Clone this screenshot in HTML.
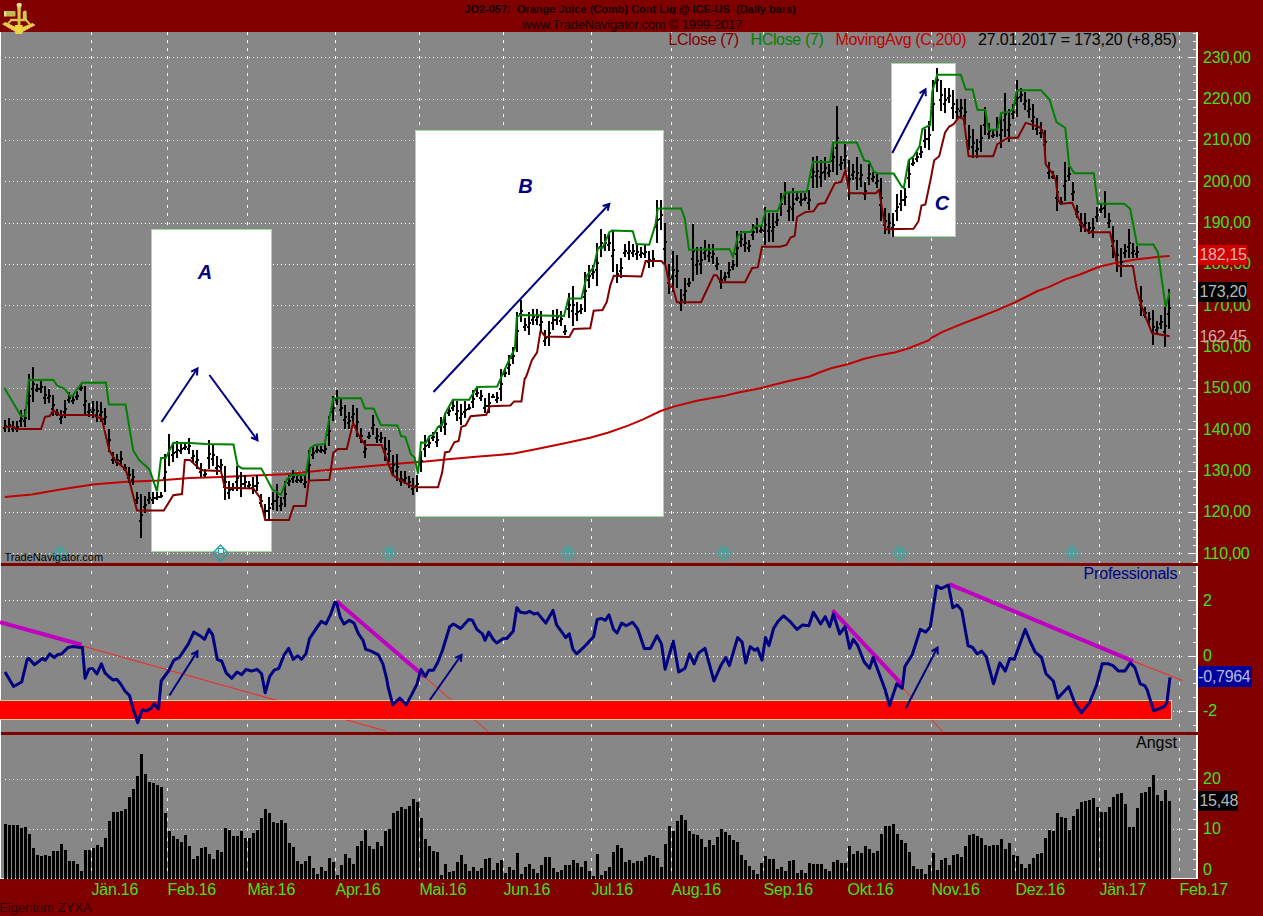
<!DOCTYPE html>
<html><head><meta charset="utf-8"><style>
html,body{margin:0;padding:0;}
body{width:1263px;height:916px;background:#800000;position:relative;overflow:hidden;font-family:"Liberation Sans",sans-serif;}
.t{position:absolute;white-space:nowrap;line-height:1;}
svg{position:absolute;left:0;top:0;}
</style></head><body>
<svg width="1263" height="916" viewBox="0 0 1263 916" shape-rendering="crispEdges">
<rect x="0" y="32" width="1196" height="846" fill="#878787"/>
<rect x="0" y="32" width="1" height="846" fill="#fff"/>
<rect x="151" y="229" width="121" height="323" fill="#fff"/>
<rect x="415" y="130" width="249" height="387" fill="#fff"/>
<rect x="891" y="63" width="65" height="174" fill="#fff"/>
<line x1="5" y1="553.5" x2="1183" y2="553.5" stroke="#fff" stroke-dasharray="1 3"/>
<line x1="5" y1="512.5" x2="1183" y2="512.5" stroke="#fff" stroke-dasharray="1 3"/>
<line x1="5" y1="471.5" x2="1183" y2="471.5" stroke="#fff" stroke-dasharray="1 3"/>
<line x1="5" y1="429.5" x2="1183" y2="429.5" stroke="#fff" stroke-dasharray="1 3"/>
<line x1="5" y1="388.5" x2="1183" y2="388.5" stroke="#fff" stroke-dasharray="1 3"/>
<line x1="5" y1="347.5" x2="1183" y2="347.5" stroke="#fff" stroke-dasharray="1 3"/>
<line x1="5" y1="305.5" x2="1183" y2="305.5" stroke="#fff" stroke-dasharray="1 3"/>
<line x1="5" y1="264.5" x2="1183" y2="264.5" stroke="#fff" stroke-dasharray="1 3"/>
<line x1="5" y1="223.5" x2="1183" y2="223.5" stroke="#fff" stroke-dasharray="1 3"/>
<line x1="5" y1="181.5" x2="1183" y2="181.5" stroke="#fff" stroke-dasharray="1 3"/>
<line x1="5" y1="140.5" x2="1183" y2="140.5" stroke="#fff" stroke-dasharray="1 3"/>
<line x1="5" y1="99.5" x2="1183" y2="99.5" stroke="#fff" stroke-dasharray="1 3"/>
<line x1="5" y1="57.5" x2="1183" y2="57.5" stroke="#fff" stroke-dasharray="1 3"/>
<line x1="5" y1="600.5" x2="1183" y2="600.5" stroke="#fff" stroke-dasharray="1 3"/>
<line x1="5" y1="656.5" x2="1183" y2="656.5" stroke="#fff" stroke-dasharray="1 3"/>
<line x1="5" y1="711.5" x2="1183" y2="711.5" stroke="#fff" stroke-dasharray="1 3"/>
<line x1="5" y1="829.5" x2="1183" y2="829.5" stroke="#fff" stroke-dasharray="1 3"/>
<line x1="5" y1="779.5" x2="1183" y2="779.5" stroke="#fff" stroke-dasharray="1 3"/>
<path d="M91 561h1v2h-1zM91 552h1v3h-1zM91 544h1v3h-1zM91 536h1v3h-1zM91 528h1v3h-1zM91 519h1v3h-1zM91 511h1v3h-1zM91 503h1v3h-1zM91 494h1v3h-1zM91 486h1v3h-1zM91 478h1v3h-1zM91 470h1v3h-1zM91 461h1v3h-1zM91 453h1v3h-1zM91 445h1v3h-1zM91 437h1v3h-1zM91 428h1v3h-1zM91 420h1v3h-1zM91 412h1v3h-1zM91 404h1v3h-1zM91 395h1v3h-1zM91 387h1v3h-1zM91 379h1v3h-1zM91 370h1v3h-1zM91 362h1v3h-1zM91 354h1v3h-1zM91 346h1v3h-1zM91 337h1v3h-1zM91 329h1v3h-1zM91 321h1v3h-1zM91 313h1v3h-1zM91 304h1v3h-1zM91 296h1v3h-1zM91 288h1v3h-1zM91 280h1v3h-1zM91 271h1v3h-1zM91 263h1v3h-1zM91 255h1v3h-1zM91 246h1v3h-1zM91 238h1v3h-1zM91 230h1v3h-1zM91 222h1v3h-1zM91 213h1v3h-1zM91 205h1v3h-1zM91 197h1v3h-1zM91 189h1v3h-1zM91 180h1v3h-1zM91 172h1v3h-1zM91 164h1v3h-1zM91 156h1v3h-1zM91 147h1v3h-1zM91 139h1v3h-1zM91 131h1v3h-1zM91 122h1v3h-1zM91 114h1v3h-1zM91 106h1v3h-1zM91 98h1v3h-1zM91 89h1v3h-1zM91 81h1v3h-1zM91 73h1v3h-1zM91 65h1v3h-1zM91 56h1v3h-1zM91 48h1v3h-1zM91 40h1v3h-1zM91 32h1v3h-1zM91 724h1v3h-1zM91 710h1v3h-1zM91 696h1v3h-1zM91 682h1v3h-1zM91 668h1v3h-1zM91 655h1v3h-1zM91 641h1v3h-1zM91 627h1v3h-1zM91 613h1v3h-1zM91 599h1v3h-1zM91 585h1v3h-1zM91 571h1v3h-1zM91 868h1v3h-1zM91 858h1v3h-1zM91 848h1v3h-1zM91 838h1v3h-1zM91 828h1v3h-1zM91 818h1v3h-1zM91 808h1v3h-1zM91 798h1v3h-1zM91 788h1v3h-1zM91 778h1v3h-1zM91 768h1v3h-1zM91 758h1v3h-1zM91 748h1v3h-1zM91 738h1v3h-1zM167 561h1v2h-1zM167 552h1v3h-1zM167 544h1v3h-1zM167 536h1v3h-1zM167 528h1v3h-1zM167 519h1v3h-1zM167 511h1v3h-1zM167 503h1v3h-1zM167 494h1v3h-1zM167 486h1v3h-1zM167 478h1v3h-1zM167 470h1v3h-1zM167 461h1v3h-1zM167 453h1v3h-1zM167 445h1v3h-1zM167 437h1v3h-1zM167 428h1v3h-1zM167 420h1v3h-1zM167 412h1v3h-1zM167 404h1v3h-1zM167 395h1v3h-1zM167 387h1v3h-1zM167 379h1v3h-1zM167 370h1v3h-1zM167 362h1v3h-1zM167 354h1v3h-1zM167 346h1v3h-1zM167 337h1v3h-1zM167 329h1v3h-1zM167 321h1v3h-1zM167 313h1v3h-1zM167 304h1v3h-1zM167 296h1v3h-1zM167 288h1v3h-1zM167 280h1v3h-1zM167 271h1v3h-1zM167 263h1v3h-1zM167 255h1v3h-1zM167 246h1v3h-1zM167 238h1v3h-1zM167 230h1v3h-1zM167 222h1v3h-1zM167 213h1v3h-1zM167 205h1v3h-1zM167 197h1v3h-1zM167 189h1v3h-1zM167 180h1v3h-1zM167 172h1v3h-1zM167 164h1v3h-1zM167 156h1v3h-1zM167 147h1v3h-1zM167 139h1v3h-1zM167 131h1v3h-1zM167 122h1v3h-1zM167 114h1v3h-1zM167 106h1v3h-1zM167 98h1v3h-1zM167 89h1v3h-1zM167 81h1v3h-1zM167 73h1v3h-1zM167 65h1v3h-1zM167 56h1v3h-1zM167 48h1v3h-1zM167 40h1v3h-1zM167 32h1v3h-1zM167 724h1v3h-1zM167 710h1v3h-1zM167 696h1v3h-1zM167 682h1v3h-1zM167 668h1v3h-1zM167 655h1v3h-1zM167 641h1v3h-1zM167 627h1v3h-1zM167 613h1v3h-1zM167 599h1v3h-1zM167 585h1v3h-1zM167 571h1v3h-1zM167 868h1v3h-1zM167 858h1v3h-1zM167 848h1v3h-1zM167 838h1v3h-1zM167 828h1v3h-1zM167 818h1v3h-1zM167 808h1v3h-1zM167 798h1v3h-1zM167 788h1v3h-1zM167 778h1v3h-1zM167 768h1v3h-1zM167 758h1v3h-1zM167 748h1v3h-1zM167 738h1v3h-1zM247 561h1v2h-1zM247 552h1v3h-1zM247 544h1v3h-1zM247 536h1v3h-1zM247 528h1v3h-1zM247 519h1v3h-1zM247 511h1v3h-1zM247 503h1v3h-1zM247 494h1v3h-1zM247 486h1v3h-1zM247 478h1v3h-1zM247 470h1v3h-1zM247 461h1v3h-1zM247 453h1v3h-1zM247 445h1v3h-1zM247 437h1v3h-1zM247 428h1v3h-1zM247 420h1v3h-1zM247 412h1v3h-1zM247 404h1v3h-1zM247 395h1v3h-1zM247 387h1v3h-1zM247 379h1v3h-1zM247 370h1v3h-1zM247 362h1v3h-1zM247 354h1v3h-1zM247 346h1v3h-1zM247 337h1v3h-1zM247 329h1v3h-1zM247 321h1v3h-1zM247 313h1v3h-1zM247 304h1v3h-1zM247 296h1v3h-1zM247 288h1v3h-1zM247 280h1v3h-1zM247 271h1v3h-1zM247 263h1v3h-1zM247 255h1v3h-1zM247 246h1v3h-1zM247 238h1v3h-1zM247 230h1v3h-1zM247 222h1v3h-1zM247 213h1v3h-1zM247 205h1v3h-1zM247 197h1v3h-1zM247 189h1v3h-1zM247 180h1v3h-1zM247 172h1v3h-1zM247 164h1v3h-1zM247 156h1v3h-1zM247 147h1v3h-1zM247 139h1v3h-1zM247 131h1v3h-1zM247 122h1v3h-1zM247 114h1v3h-1zM247 106h1v3h-1zM247 98h1v3h-1zM247 89h1v3h-1zM247 81h1v3h-1zM247 73h1v3h-1zM247 65h1v3h-1zM247 56h1v3h-1zM247 48h1v3h-1zM247 40h1v3h-1zM247 32h1v3h-1zM247 724h1v3h-1zM247 710h1v3h-1zM247 696h1v3h-1zM247 682h1v3h-1zM247 668h1v3h-1zM247 655h1v3h-1zM247 641h1v3h-1zM247 627h1v3h-1zM247 613h1v3h-1zM247 599h1v3h-1zM247 585h1v3h-1zM247 571h1v3h-1zM247 868h1v3h-1zM247 858h1v3h-1zM247 848h1v3h-1zM247 838h1v3h-1zM247 828h1v3h-1zM247 818h1v3h-1zM247 808h1v3h-1zM247 798h1v3h-1zM247 788h1v3h-1zM247 778h1v3h-1zM247 768h1v3h-1zM247 758h1v3h-1zM247 748h1v3h-1zM247 738h1v3h-1zM335 561h1v2h-1zM335 552h1v3h-1zM335 544h1v3h-1zM335 536h1v3h-1zM335 528h1v3h-1zM335 519h1v3h-1zM335 511h1v3h-1zM335 503h1v3h-1zM335 494h1v3h-1zM335 486h1v3h-1zM335 478h1v3h-1zM335 470h1v3h-1zM335 461h1v3h-1zM335 453h1v3h-1zM335 445h1v3h-1zM335 437h1v3h-1zM335 428h1v3h-1zM335 420h1v3h-1zM335 412h1v3h-1zM335 404h1v3h-1zM335 395h1v3h-1zM335 387h1v3h-1zM335 379h1v3h-1zM335 370h1v3h-1zM335 362h1v3h-1zM335 354h1v3h-1zM335 346h1v3h-1zM335 337h1v3h-1zM335 329h1v3h-1zM335 321h1v3h-1zM335 313h1v3h-1zM335 304h1v3h-1zM335 296h1v3h-1zM335 288h1v3h-1zM335 280h1v3h-1zM335 271h1v3h-1zM335 263h1v3h-1zM335 255h1v3h-1zM335 246h1v3h-1zM335 238h1v3h-1zM335 230h1v3h-1zM335 222h1v3h-1zM335 213h1v3h-1zM335 205h1v3h-1zM335 197h1v3h-1zM335 189h1v3h-1zM335 180h1v3h-1zM335 172h1v3h-1zM335 164h1v3h-1zM335 156h1v3h-1zM335 147h1v3h-1zM335 139h1v3h-1zM335 131h1v3h-1zM335 122h1v3h-1zM335 114h1v3h-1zM335 106h1v3h-1zM335 98h1v3h-1zM335 89h1v3h-1zM335 81h1v3h-1zM335 73h1v3h-1zM335 65h1v3h-1zM335 56h1v3h-1zM335 48h1v3h-1zM335 40h1v3h-1zM335 32h1v3h-1zM335 724h1v3h-1zM335 710h1v3h-1zM335 696h1v3h-1zM335 682h1v3h-1zM335 668h1v3h-1zM335 655h1v3h-1zM335 641h1v3h-1zM335 627h1v3h-1zM335 613h1v3h-1zM335 599h1v3h-1zM335 585h1v3h-1zM335 571h1v3h-1zM335 868h1v3h-1zM335 858h1v3h-1zM335 848h1v3h-1zM335 838h1v3h-1zM335 828h1v3h-1zM335 818h1v3h-1zM335 808h1v3h-1zM335 798h1v3h-1zM335 788h1v3h-1zM335 778h1v3h-1zM335 768h1v3h-1zM335 758h1v3h-1zM335 748h1v3h-1zM335 738h1v3h-1zM419 561h1v2h-1zM419 552h1v3h-1zM419 544h1v3h-1zM419 536h1v3h-1zM419 528h1v3h-1zM419 519h1v3h-1zM419 511h1v3h-1zM419 503h1v3h-1zM419 494h1v3h-1zM419 486h1v3h-1zM419 478h1v3h-1zM419 470h1v3h-1zM419 461h1v3h-1zM419 453h1v3h-1zM419 445h1v3h-1zM419 437h1v3h-1zM419 428h1v3h-1zM419 420h1v3h-1zM419 412h1v3h-1zM419 404h1v3h-1zM419 395h1v3h-1zM419 387h1v3h-1zM419 379h1v3h-1zM419 370h1v3h-1zM419 362h1v3h-1zM419 354h1v3h-1zM419 346h1v3h-1zM419 337h1v3h-1zM419 329h1v3h-1zM419 321h1v3h-1zM419 313h1v3h-1zM419 304h1v3h-1zM419 296h1v3h-1zM419 288h1v3h-1zM419 280h1v3h-1zM419 271h1v3h-1zM419 263h1v3h-1zM419 255h1v3h-1zM419 246h1v3h-1zM419 238h1v3h-1zM419 230h1v3h-1zM419 222h1v3h-1zM419 213h1v3h-1zM419 205h1v3h-1zM419 197h1v3h-1zM419 189h1v3h-1zM419 180h1v3h-1zM419 172h1v3h-1zM419 164h1v3h-1zM419 156h1v3h-1zM419 147h1v3h-1zM419 139h1v3h-1zM419 131h1v3h-1zM419 122h1v3h-1zM419 114h1v3h-1zM419 106h1v3h-1zM419 98h1v3h-1zM419 89h1v3h-1zM419 81h1v3h-1zM419 73h1v3h-1zM419 65h1v3h-1zM419 56h1v3h-1zM419 48h1v3h-1zM419 40h1v3h-1zM419 32h1v3h-1zM419 724h1v3h-1zM419 710h1v3h-1zM419 696h1v3h-1zM419 682h1v3h-1zM419 668h1v3h-1zM419 655h1v3h-1zM419 641h1v3h-1zM419 627h1v3h-1zM419 613h1v3h-1zM419 599h1v3h-1zM419 585h1v3h-1zM419 571h1v3h-1zM419 868h1v3h-1zM419 858h1v3h-1zM419 848h1v3h-1zM419 838h1v3h-1zM419 828h1v3h-1zM419 818h1v3h-1zM419 808h1v3h-1zM419 798h1v3h-1zM419 788h1v3h-1zM419 778h1v3h-1zM419 768h1v3h-1zM419 758h1v3h-1zM419 748h1v3h-1zM419 738h1v3h-1zM503 561h1v2h-1zM503 552h1v3h-1zM503 544h1v3h-1zM503 536h1v3h-1zM503 528h1v3h-1zM503 519h1v3h-1zM503 511h1v3h-1zM503 503h1v3h-1zM503 494h1v3h-1zM503 486h1v3h-1zM503 478h1v3h-1zM503 470h1v3h-1zM503 461h1v3h-1zM503 453h1v3h-1zM503 445h1v3h-1zM503 437h1v3h-1zM503 428h1v3h-1zM503 420h1v3h-1zM503 412h1v3h-1zM503 404h1v3h-1zM503 395h1v3h-1zM503 387h1v3h-1zM503 379h1v3h-1zM503 370h1v3h-1zM503 362h1v3h-1zM503 354h1v3h-1zM503 346h1v3h-1zM503 337h1v3h-1zM503 329h1v3h-1zM503 321h1v3h-1zM503 313h1v3h-1zM503 304h1v3h-1zM503 296h1v3h-1zM503 288h1v3h-1zM503 280h1v3h-1zM503 271h1v3h-1zM503 263h1v3h-1zM503 255h1v3h-1zM503 246h1v3h-1zM503 238h1v3h-1zM503 230h1v3h-1zM503 222h1v3h-1zM503 213h1v3h-1zM503 205h1v3h-1zM503 197h1v3h-1zM503 189h1v3h-1zM503 180h1v3h-1zM503 172h1v3h-1zM503 164h1v3h-1zM503 156h1v3h-1zM503 147h1v3h-1zM503 139h1v3h-1zM503 131h1v3h-1zM503 122h1v3h-1zM503 114h1v3h-1zM503 106h1v3h-1zM503 98h1v3h-1zM503 89h1v3h-1zM503 81h1v3h-1zM503 73h1v3h-1zM503 65h1v3h-1zM503 56h1v3h-1zM503 48h1v3h-1zM503 40h1v3h-1zM503 32h1v3h-1zM503 724h1v3h-1zM503 710h1v3h-1zM503 696h1v3h-1zM503 682h1v3h-1zM503 668h1v3h-1zM503 655h1v3h-1zM503 641h1v3h-1zM503 627h1v3h-1zM503 613h1v3h-1zM503 599h1v3h-1zM503 585h1v3h-1zM503 571h1v3h-1zM503 868h1v3h-1zM503 858h1v3h-1zM503 848h1v3h-1zM503 838h1v3h-1zM503 828h1v3h-1zM503 818h1v3h-1zM503 808h1v3h-1zM503 798h1v3h-1zM503 788h1v3h-1zM503 778h1v3h-1zM503 768h1v3h-1zM503 758h1v3h-1zM503 748h1v3h-1zM503 738h1v3h-1zM591 561h1v2h-1zM591 552h1v3h-1zM591 544h1v3h-1zM591 536h1v3h-1zM591 528h1v3h-1zM591 519h1v3h-1zM591 511h1v3h-1zM591 503h1v3h-1zM591 494h1v3h-1zM591 486h1v3h-1zM591 478h1v3h-1zM591 470h1v3h-1zM591 461h1v3h-1zM591 453h1v3h-1zM591 445h1v3h-1zM591 437h1v3h-1zM591 428h1v3h-1zM591 420h1v3h-1zM591 412h1v3h-1zM591 404h1v3h-1zM591 395h1v3h-1zM591 387h1v3h-1zM591 379h1v3h-1zM591 370h1v3h-1zM591 362h1v3h-1zM591 354h1v3h-1zM591 346h1v3h-1zM591 337h1v3h-1zM591 329h1v3h-1zM591 321h1v3h-1zM591 313h1v3h-1zM591 304h1v3h-1zM591 296h1v3h-1zM591 288h1v3h-1zM591 280h1v3h-1zM591 271h1v3h-1zM591 263h1v3h-1zM591 255h1v3h-1zM591 246h1v3h-1zM591 238h1v3h-1zM591 230h1v3h-1zM591 222h1v3h-1zM591 213h1v3h-1zM591 205h1v3h-1zM591 197h1v3h-1zM591 189h1v3h-1zM591 180h1v3h-1zM591 172h1v3h-1zM591 164h1v3h-1zM591 156h1v3h-1zM591 147h1v3h-1zM591 139h1v3h-1zM591 131h1v3h-1zM591 122h1v3h-1zM591 114h1v3h-1zM591 106h1v3h-1zM591 98h1v3h-1zM591 89h1v3h-1zM591 81h1v3h-1zM591 73h1v3h-1zM591 65h1v3h-1zM591 56h1v3h-1zM591 48h1v3h-1zM591 40h1v3h-1zM591 32h1v3h-1zM591 724h1v3h-1zM591 710h1v3h-1zM591 696h1v3h-1zM591 682h1v3h-1zM591 668h1v3h-1zM591 655h1v3h-1zM591 641h1v3h-1zM591 627h1v3h-1zM591 613h1v3h-1zM591 599h1v3h-1zM591 585h1v3h-1zM591 571h1v3h-1zM591 868h1v3h-1zM591 858h1v3h-1zM591 848h1v3h-1zM591 838h1v3h-1zM591 828h1v3h-1zM591 818h1v3h-1zM591 808h1v3h-1zM591 798h1v3h-1zM591 788h1v3h-1zM591 778h1v3h-1zM591 768h1v3h-1zM591 758h1v3h-1zM591 748h1v3h-1zM591 738h1v3h-1zM671 561h1v2h-1zM671 552h1v3h-1zM671 544h1v3h-1zM671 536h1v3h-1zM671 528h1v3h-1zM671 519h1v3h-1zM671 511h1v3h-1zM671 503h1v3h-1zM671 494h1v3h-1zM671 486h1v3h-1zM671 478h1v3h-1zM671 470h1v3h-1zM671 461h1v3h-1zM671 453h1v3h-1zM671 445h1v3h-1zM671 437h1v3h-1zM671 428h1v3h-1zM671 420h1v3h-1zM671 412h1v3h-1zM671 404h1v3h-1zM671 395h1v3h-1zM671 387h1v3h-1zM671 379h1v3h-1zM671 370h1v3h-1zM671 362h1v3h-1zM671 354h1v3h-1zM671 346h1v3h-1zM671 337h1v3h-1zM671 329h1v3h-1zM671 321h1v3h-1zM671 313h1v3h-1zM671 304h1v3h-1zM671 296h1v3h-1zM671 288h1v3h-1zM671 280h1v3h-1zM671 271h1v3h-1zM671 263h1v3h-1zM671 255h1v3h-1zM671 246h1v3h-1zM671 238h1v3h-1zM671 230h1v3h-1zM671 222h1v3h-1zM671 213h1v3h-1zM671 205h1v3h-1zM671 197h1v3h-1zM671 189h1v3h-1zM671 180h1v3h-1zM671 172h1v3h-1zM671 164h1v3h-1zM671 156h1v3h-1zM671 147h1v3h-1zM671 139h1v3h-1zM671 131h1v3h-1zM671 122h1v3h-1zM671 114h1v3h-1zM671 106h1v3h-1zM671 98h1v3h-1zM671 89h1v3h-1zM671 81h1v3h-1zM671 73h1v3h-1zM671 65h1v3h-1zM671 56h1v3h-1zM671 48h1v3h-1zM671 40h1v3h-1zM671 32h1v3h-1zM671 724h1v3h-1zM671 710h1v3h-1zM671 696h1v3h-1zM671 682h1v3h-1zM671 668h1v3h-1zM671 655h1v3h-1zM671 641h1v3h-1zM671 627h1v3h-1zM671 613h1v3h-1zM671 599h1v3h-1zM671 585h1v3h-1zM671 571h1v3h-1zM671 868h1v3h-1zM671 858h1v3h-1zM671 848h1v3h-1zM671 838h1v3h-1zM671 828h1v3h-1zM671 818h1v3h-1zM671 808h1v3h-1zM671 798h1v3h-1zM671 788h1v3h-1zM671 778h1v3h-1zM671 768h1v3h-1zM671 758h1v3h-1zM671 748h1v3h-1zM671 738h1v3h-1zM763 561h1v2h-1zM763 552h1v3h-1zM763 544h1v3h-1zM763 536h1v3h-1zM763 528h1v3h-1zM763 519h1v3h-1zM763 511h1v3h-1zM763 503h1v3h-1zM763 494h1v3h-1zM763 486h1v3h-1zM763 478h1v3h-1zM763 470h1v3h-1zM763 461h1v3h-1zM763 453h1v3h-1zM763 445h1v3h-1zM763 437h1v3h-1zM763 428h1v3h-1zM763 420h1v3h-1zM763 412h1v3h-1zM763 404h1v3h-1zM763 395h1v3h-1zM763 387h1v3h-1zM763 379h1v3h-1zM763 370h1v3h-1zM763 362h1v3h-1zM763 354h1v3h-1zM763 346h1v3h-1zM763 337h1v3h-1zM763 329h1v3h-1zM763 321h1v3h-1zM763 313h1v3h-1zM763 304h1v3h-1zM763 296h1v3h-1zM763 288h1v3h-1zM763 280h1v3h-1zM763 271h1v3h-1zM763 263h1v3h-1zM763 255h1v3h-1zM763 246h1v3h-1zM763 238h1v3h-1zM763 230h1v3h-1zM763 222h1v3h-1zM763 213h1v3h-1zM763 205h1v3h-1zM763 197h1v3h-1zM763 189h1v3h-1zM763 180h1v3h-1zM763 172h1v3h-1zM763 164h1v3h-1zM763 156h1v3h-1zM763 147h1v3h-1zM763 139h1v3h-1zM763 131h1v3h-1zM763 122h1v3h-1zM763 114h1v3h-1zM763 106h1v3h-1zM763 98h1v3h-1zM763 89h1v3h-1zM763 81h1v3h-1zM763 73h1v3h-1zM763 65h1v3h-1zM763 56h1v3h-1zM763 48h1v3h-1zM763 40h1v3h-1zM763 32h1v3h-1zM763 724h1v3h-1zM763 710h1v3h-1zM763 696h1v3h-1zM763 682h1v3h-1zM763 668h1v3h-1zM763 655h1v3h-1zM763 641h1v3h-1zM763 627h1v3h-1zM763 613h1v3h-1zM763 599h1v3h-1zM763 585h1v3h-1zM763 571h1v3h-1zM763 868h1v3h-1zM763 858h1v3h-1zM763 848h1v3h-1zM763 838h1v3h-1zM763 828h1v3h-1zM763 818h1v3h-1zM763 808h1v3h-1zM763 798h1v3h-1zM763 788h1v3h-1zM763 778h1v3h-1zM763 768h1v3h-1zM763 758h1v3h-1zM763 748h1v3h-1zM763 738h1v3h-1zM847 561h1v2h-1zM847 552h1v3h-1zM847 544h1v3h-1zM847 536h1v3h-1zM847 528h1v3h-1zM847 519h1v3h-1zM847 511h1v3h-1zM847 503h1v3h-1zM847 494h1v3h-1zM847 486h1v3h-1zM847 478h1v3h-1zM847 470h1v3h-1zM847 461h1v3h-1zM847 453h1v3h-1zM847 445h1v3h-1zM847 437h1v3h-1zM847 428h1v3h-1zM847 420h1v3h-1zM847 412h1v3h-1zM847 404h1v3h-1zM847 395h1v3h-1zM847 387h1v3h-1zM847 379h1v3h-1zM847 370h1v3h-1zM847 362h1v3h-1zM847 354h1v3h-1zM847 346h1v3h-1zM847 337h1v3h-1zM847 329h1v3h-1zM847 321h1v3h-1zM847 313h1v3h-1zM847 304h1v3h-1zM847 296h1v3h-1zM847 288h1v3h-1zM847 280h1v3h-1zM847 271h1v3h-1zM847 263h1v3h-1zM847 255h1v3h-1zM847 246h1v3h-1zM847 238h1v3h-1zM847 230h1v3h-1zM847 222h1v3h-1zM847 213h1v3h-1zM847 205h1v3h-1zM847 197h1v3h-1zM847 189h1v3h-1zM847 180h1v3h-1zM847 172h1v3h-1zM847 164h1v3h-1zM847 156h1v3h-1zM847 147h1v3h-1zM847 139h1v3h-1zM847 131h1v3h-1zM847 122h1v3h-1zM847 114h1v3h-1zM847 106h1v3h-1zM847 98h1v3h-1zM847 89h1v3h-1zM847 81h1v3h-1zM847 73h1v3h-1zM847 65h1v3h-1zM847 56h1v3h-1zM847 48h1v3h-1zM847 40h1v3h-1zM847 32h1v3h-1zM847 724h1v3h-1zM847 710h1v3h-1zM847 696h1v3h-1zM847 682h1v3h-1zM847 668h1v3h-1zM847 655h1v3h-1zM847 641h1v3h-1zM847 627h1v3h-1zM847 613h1v3h-1zM847 599h1v3h-1zM847 585h1v3h-1zM847 571h1v3h-1zM847 868h1v3h-1zM847 858h1v3h-1zM847 848h1v3h-1zM847 838h1v3h-1zM847 828h1v3h-1zM847 818h1v3h-1zM847 808h1v3h-1zM847 798h1v3h-1zM847 788h1v3h-1zM847 778h1v3h-1zM847 768h1v3h-1zM847 758h1v3h-1zM847 748h1v3h-1zM847 738h1v3h-1zM931 561h1v2h-1zM931 552h1v3h-1zM931 544h1v3h-1zM931 536h1v3h-1zM931 528h1v3h-1zM931 519h1v3h-1zM931 511h1v3h-1zM931 503h1v3h-1zM931 494h1v3h-1zM931 486h1v3h-1zM931 478h1v3h-1zM931 470h1v3h-1zM931 461h1v3h-1zM931 453h1v3h-1zM931 445h1v3h-1zM931 437h1v3h-1zM931 428h1v3h-1zM931 420h1v3h-1zM931 412h1v3h-1zM931 404h1v3h-1zM931 395h1v3h-1zM931 387h1v3h-1zM931 379h1v3h-1zM931 370h1v3h-1zM931 362h1v3h-1zM931 354h1v3h-1zM931 346h1v3h-1zM931 337h1v3h-1zM931 329h1v3h-1zM931 321h1v3h-1zM931 313h1v3h-1zM931 304h1v3h-1zM931 296h1v3h-1zM931 288h1v3h-1zM931 280h1v3h-1zM931 271h1v3h-1zM931 263h1v3h-1zM931 255h1v3h-1zM931 246h1v3h-1zM931 238h1v3h-1zM931 230h1v3h-1zM931 222h1v3h-1zM931 213h1v3h-1zM931 205h1v3h-1zM931 197h1v3h-1zM931 189h1v3h-1zM931 180h1v3h-1zM931 172h1v3h-1zM931 164h1v3h-1zM931 156h1v3h-1zM931 147h1v3h-1zM931 139h1v3h-1zM931 131h1v3h-1zM931 122h1v3h-1zM931 114h1v3h-1zM931 106h1v3h-1zM931 98h1v3h-1zM931 89h1v3h-1zM931 81h1v3h-1zM931 73h1v3h-1zM931 65h1v3h-1zM931 56h1v3h-1zM931 48h1v3h-1zM931 40h1v3h-1zM931 32h1v3h-1zM931 724h1v3h-1zM931 710h1v3h-1zM931 696h1v3h-1zM931 682h1v3h-1zM931 668h1v3h-1zM931 655h1v3h-1zM931 641h1v3h-1zM931 627h1v3h-1zM931 613h1v3h-1zM931 599h1v3h-1zM931 585h1v3h-1zM931 571h1v3h-1zM931 868h1v3h-1zM931 858h1v3h-1zM931 848h1v3h-1zM931 838h1v3h-1zM931 828h1v3h-1zM931 818h1v3h-1zM931 808h1v3h-1zM931 798h1v3h-1zM931 788h1v3h-1zM931 778h1v3h-1zM931 768h1v3h-1zM931 758h1v3h-1zM931 748h1v3h-1zM931 738h1v3h-1zM1015 561h1v2h-1zM1015 552h1v3h-1zM1015 544h1v3h-1zM1015 536h1v3h-1zM1015 528h1v3h-1zM1015 519h1v3h-1zM1015 511h1v3h-1zM1015 503h1v3h-1zM1015 494h1v3h-1zM1015 486h1v3h-1zM1015 478h1v3h-1zM1015 470h1v3h-1zM1015 461h1v3h-1zM1015 453h1v3h-1zM1015 445h1v3h-1zM1015 437h1v3h-1zM1015 428h1v3h-1zM1015 420h1v3h-1zM1015 412h1v3h-1zM1015 404h1v3h-1zM1015 395h1v3h-1zM1015 387h1v3h-1zM1015 379h1v3h-1zM1015 370h1v3h-1zM1015 362h1v3h-1zM1015 354h1v3h-1zM1015 346h1v3h-1zM1015 337h1v3h-1zM1015 329h1v3h-1zM1015 321h1v3h-1zM1015 313h1v3h-1zM1015 304h1v3h-1zM1015 296h1v3h-1zM1015 288h1v3h-1zM1015 280h1v3h-1zM1015 271h1v3h-1zM1015 263h1v3h-1zM1015 255h1v3h-1zM1015 246h1v3h-1zM1015 238h1v3h-1zM1015 230h1v3h-1zM1015 222h1v3h-1zM1015 213h1v3h-1zM1015 205h1v3h-1zM1015 197h1v3h-1zM1015 189h1v3h-1zM1015 180h1v3h-1zM1015 172h1v3h-1zM1015 164h1v3h-1zM1015 156h1v3h-1zM1015 147h1v3h-1zM1015 139h1v3h-1zM1015 131h1v3h-1zM1015 122h1v3h-1zM1015 114h1v3h-1zM1015 106h1v3h-1zM1015 98h1v3h-1zM1015 89h1v3h-1zM1015 81h1v3h-1zM1015 73h1v3h-1zM1015 65h1v3h-1zM1015 56h1v3h-1zM1015 48h1v3h-1zM1015 40h1v3h-1zM1015 32h1v3h-1zM1015 724h1v3h-1zM1015 710h1v3h-1zM1015 696h1v3h-1zM1015 682h1v3h-1zM1015 668h1v3h-1zM1015 655h1v3h-1zM1015 641h1v3h-1zM1015 627h1v3h-1zM1015 613h1v3h-1zM1015 599h1v3h-1zM1015 585h1v3h-1zM1015 571h1v3h-1zM1015 868h1v3h-1zM1015 858h1v3h-1zM1015 848h1v3h-1zM1015 838h1v3h-1zM1015 828h1v3h-1zM1015 818h1v3h-1zM1015 808h1v3h-1zM1015 798h1v3h-1zM1015 788h1v3h-1zM1015 778h1v3h-1zM1015 768h1v3h-1zM1015 758h1v3h-1zM1015 748h1v3h-1zM1015 738h1v3h-1zM1099 561h1v2h-1zM1099 552h1v3h-1zM1099 544h1v3h-1zM1099 536h1v3h-1zM1099 528h1v3h-1zM1099 519h1v3h-1zM1099 511h1v3h-1zM1099 503h1v3h-1zM1099 494h1v3h-1zM1099 486h1v3h-1zM1099 478h1v3h-1zM1099 470h1v3h-1zM1099 461h1v3h-1zM1099 453h1v3h-1zM1099 445h1v3h-1zM1099 437h1v3h-1zM1099 428h1v3h-1zM1099 420h1v3h-1zM1099 412h1v3h-1zM1099 404h1v3h-1zM1099 395h1v3h-1zM1099 387h1v3h-1zM1099 379h1v3h-1zM1099 370h1v3h-1zM1099 362h1v3h-1zM1099 354h1v3h-1zM1099 346h1v3h-1zM1099 337h1v3h-1zM1099 329h1v3h-1zM1099 321h1v3h-1zM1099 313h1v3h-1zM1099 304h1v3h-1zM1099 296h1v3h-1zM1099 288h1v3h-1zM1099 280h1v3h-1zM1099 271h1v3h-1zM1099 263h1v3h-1zM1099 255h1v3h-1zM1099 246h1v3h-1zM1099 238h1v3h-1zM1099 230h1v3h-1zM1099 222h1v3h-1zM1099 213h1v3h-1zM1099 205h1v3h-1zM1099 197h1v3h-1zM1099 189h1v3h-1zM1099 180h1v3h-1zM1099 172h1v3h-1zM1099 164h1v3h-1zM1099 156h1v3h-1zM1099 147h1v3h-1zM1099 139h1v3h-1zM1099 131h1v3h-1zM1099 122h1v3h-1zM1099 114h1v3h-1zM1099 106h1v3h-1zM1099 98h1v3h-1zM1099 89h1v3h-1zM1099 81h1v3h-1zM1099 73h1v3h-1zM1099 65h1v3h-1zM1099 56h1v3h-1zM1099 48h1v3h-1zM1099 40h1v3h-1zM1099 32h1v3h-1zM1099 724h1v3h-1zM1099 710h1v3h-1zM1099 696h1v3h-1zM1099 682h1v3h-1zM1099 668h1v3h-1zM1099 655h1v3h-1zM1099 641h1v3h-1zM1099 627h1v3h-1zM1099 613h1v3h-1zM1099 599h1v3h-1zM1099 585h1v3h-1zM1099 571h1v3h-1zM1099 868h1v3h-1zM1099 858h1v3h-1zM1099 848h1v3h-1zM1099 838h1v3h-1zM1099 828h1v3h-1zM1099 818h1v3h-1zM1099 808h1v3h-1zM1099 798h1v3h-1zM1099 788h1v3h-1zM1099 778h1v3h-1zM1099 768h1v3h-1zM1099 758h1v3h-1zM1099 748h1v3h-1zM1099 738h1v3h-1zM1179 561h1v2h-1zM1179 552h1v3h-1zM1179 544h1v3h-1zM1179 536h1v3h-1zM1179 528h1v3h-1zM1179 519h1v3h-1zM1179 511h1v3h-1zM1179 503h1v3h-1zM1179 494h1v3h-1zM1179 486h1v3h-1zM1179 478h1v3h-1zM1179 470h1v3h-1zM1179 461h1v3h-1zM1179 453h1v3h-1zM1179 445h1v3h-1zM1179 437h1v3h-1zM1179 428h1v3h-1zM1179 420h1v3h-1zM1179 412h1v3h-1zM1179 404h1v3h-1zM1179 395h1v3h-1zM1179 387h1v3h-1zM1179 379h1v3h-1zM1179 370h1v3h-1zM1179 362h1v3h-1zM1179 354h1v3h-1zM1179 346h1v3h-1zM1179 337h1v3h-1zM1179 329h1v3h-1zM1179 321h1v3h-1zM1179 313h1v3h-1zM1179 304h1v3h-1zM1179 296h1v3h-1zM1179 288h1v3h-1zM1179 280h1v3h-1zM1179 271h1v3h-1zM1179 263h1v3h-1zM1179 255h1v3h-1zM1179 246h1v3h-1zM1179 238h1v3h-1zM1179 230h1v3h-1zM1179 222h1v3h-1zM1179 213h1v3h-1zM1179 205h1v3h-1zM1179 197h1v3h-1zM1179 189h1v3h-1zM1179 180h1v3h-1zM1179 172h1v3h-1zM1179 164h1v3h-1zM1179 156h1v3h-1zM1179 147h1v3h-1zM1179 139h1v3h-1zM1179 131h1v3h-1zM1179 122h1v3h-1zM1179 114h1v3h-1zM1179 106h1v3h-1zM1179 98h1v3h-1zM1179 89h1v3h-1zM1179 81h1v3h-1zM1179 73h1v3h-1zM1179 65h1v3h-1zM1179 56h1v3h-1zM1179 48h1v3h-1zM1179 40h1v3h-1zM1179 32h1v3h-1zM1179 724h1v3h-1zM1179 710h1v3h-1zM1179 696h1v3h-1zM1179 682h1v3h-1zM1179 668h1v3h-1zM1179 655h1v3h-1zM1179 641h1v3h-1zM1179 627h1v3h-1zM1179 613h1v3h-1zM1179 599h1v3h-1zM1179 585h1v3h-1zM1179 571h1v3h-1zM1179 868h1v3h-1zM1179 858h1v3h-1zM1179 848h1v3h-1zM1179 838h1v3h-1zM1179 828h1v3h-1zM1179 818h1v3h-1zM1179 808h1v3h-1zM1179 798h1v3h-1zM1179 788h1v3h-1zM1179 778h1v3h-1zM1179 768h1v3h-1zM1179 758h1v3h-1zM1179 748h1v3h-1zM1179 738h1v3h-1z" fill="#fff"/>
<rect x="151.5" y="229.5" width="120" height="322" fill="none" stroke="#9be09b"/>
<rect x="415.5" y="130.5" width="248" height="386" fill="none" stroke="#9be09b"/>
<rect x="891.5" y="63.5" width="64" height="173" fill="none" stroke="#9be09b"/>
<polyline points="4.8,497.0 31.7,494.5 63.3,489.1 95.0,484.3 126.7,481.8 158.4,480.5 190.0,478.0 221.7,477.0 253.4,475.5 285.0,474.2 316.7,471.0 348.4,467.9 380.0,465.3 400.0,463.6 425.3,461.6 450.7,459.0 476.0,456.8 501.3,454.7 514.0,453.5 539.3,448.4 564.7,443.3 590.0,437.8 607.8,432.7 628.0,425.6 643.2,419.3 660.0,411.3 672.7,406.9 698.0,400.6 723.4,396.1 736.0,393.0 761.4,387.9 786.7,381.5 809.6,376.5 820.0,372.3 831.1,368.2 847.7,364.3 864.3,358.8 881.0,354.9 895.4,352.2 908.7,348.3 928.6,340.5 932.0,337.7 942.0,332.2 960.0,324.6 976.6,318.2 996.6,310.4 1015.4,302.1 1037.6,291.0 1048.7,287.1 1065.3,279.4 1080.0,274.5 1099.8,266.5 1115.6,263.1 1135.4,259.5 1159.2,256.8 1169.5,256.0" fill="none" stroke="#c00000" stroke-width="2" shape-rendering="auto"/>
<path d="M4 420h2v12h-2zM6 425h1v2h-1zM3 427h1v2h-1zM8 418h2v14h-2zM10 424h1v2h-1zM7 426h1v2h-1zM12 421h2v11h-2zM14 426h1v2h-1zM11 428h1v2h-1zM16 421h2v11h-2zM18 426h1v2h-1zM15 428h1v2h-1zM20 410h2v17h-2zM22 418h1v2h-1zM19 420h1v2h-1zM24 409h2v18h-2zM26 417h1v2h-1zM23 420h1v2h-1zM28 374h2v46h-2zM30 395h1v2h-1zM27 402h1v2h-1zM32 367h2v35h-2zM34 383h1v2h-1zM31 388h1v2h-1zM36 384h2v8h-2zM38 388h1v2h-1zM35 389h1v2h-1zM40 381h2v12h-2zM42 386h1v2h-1zM39 388h1v2h-1zM44 386h2v18h-2zM46 394h1v2h-1zM43 397h1v2h-1zM48 389h2v14h-2zM50 395h1v2h-1zM47 397h1v2h-1zM52 395h2v21h-2zM54 404h1v2h-1zM51 408h1v2h-1zM56 409h2v7h-2zM58 412h1v2h-1zM55 413h1v2h-1zM60 410h2v14h-2zM62 416h1v2h-1zM59 418h1v2h-1zM64 400h2v18h-2zM66 408h1v2h-1zM63 411h1v2h-1zM68 392h2v11h-2zM70 397h1v2h-1zM67 399h1v2h-1zM72 395h2v9h-2zM74 399h1v2h-1zM71 400h1v2h-1zM76 391h2v9h-2zM78 395h1v2h-1zM75 396h1v2h-1zM80 384h2v7h-2zM82 387h1v2h-1zM79 388h1v2h-1zM84 386h2v30h-2zM86 400h1v2h-1zM83 404h1v2h-1zM88 403h2v14h-2zM90 409h1v2h-1zM87 411h1v2h-1zM92 401h2v17h-2zM94 409h1v2h-1zM91 411h1v2h-1zM96 401h2v21h-2zM98 410h1v2h-1zM95 414h1v2h-1zM100 402h2v20h-2zM102 411h1v2h-1zM99 414h1v2h-1zM104 408h2v17h-2zM106 416h1v2h-1zM103 418h1v2h-1zM108 429h2v23h-2zM110 439h1v2h-1zM107 443h1v2h-1zM112 452h2v12h-2zM114 457h1v2h-1zM111 459h1v2h-1zM116 454h2v12h-2zM118 459h1v2h-1zM115 461h1v2h-1zM120 451h2v15h-2zM122 458h1v2h-1zM119 460h1v2h-1zM124 464h2v7h-2zM126 467h1v2h-1zM123 468h1v2h-1zM128 467h2v16h-2zM130 474h1v2h-1zM127 477h1v2h-1zM132 469h2v16h-2zM134 476h1v2h-1zM131 479h1v2h-1zM136 492h2v12h-2zM138 497h1v2h-1zM135 499h1v2h-1zM140 494h2v44h-2zM142 514h1v2h-1zM139 520h1v2h-1zM144 496h2v17h-2zM146 504h1v2h-1zM143 506h1v2h-1zM148 492h2v12h-2zM150 497h1v2h-1zM147 499h1v2h-1zM152 492h2v12h-2zM154 497h1v2h-1zM151 499h1v2h-1zM156 492h2v8h-2zM158 496h1v2h-1zM155 497h1v2h-1zM160 492h2v6h-2zM162 495h1v2h-1zM159 496h1v2h-1zM164 454h2v38h-2zM166 471h1v2h-1zM163 477h1v2h-1zM168 434h2v32h-2zM170 448h1v2h-1zM167 453h1v2h-1zM172 443h2v19h-2zM174 452h1v2h-1zM171 454h1v2h-1zM176 441h2v17h-2zM178 449h1v2h-1zM175 451h1v2h-1zM180 443h2v11h-2zM182 448h1v2h-1zM179 450h1v2h-1zM184 443h2v7h-2zM186 446h1v2h-1zM183 447h1v2h-1zM188 438h2v16h-2zM190 445h1v2h-1zM187 448h1v2h-1zM192 450h2v12h-2zM194 455h1v2h-1zM191 457h1v2h-1zM196 450h2v19h-2zM198 459h1v2h-1zM195 461h1v2h-1zM200 463h2v14h-2zM202 469h1v2h-1zM199 471h1v2h-1zM204 469h2v8h-2zM206 473h1v2h-1zM203 474h1v2h-1zM208 440h2v29h-2zM210 453h1v2h-1zM207 457h1v2h-1zM212 445h2v21h-2zM214 454h1v2h-1zM211 458h1v2h-1zM216 456h2v19h-2zM218 465h1v2h-1zM215 467h1v2h-1zM220 459h2v11h-2zM222 464h1v2h-1zM219 466h1v2h-1zM224 466h2v34h-2zM226 481h1v2h-1zM223 486h1v2h-1zM228 481h2v18h-2zM230 489h1v2h-1zM227 492h1v2h-1zM232 483h2v8h-2zM234 487h1v2h-1zM231 488h1v2h-1zM236 466h2v25h-2zM238 477h1v2h-1zM235 481h1v2h-1zM240 472h2v25h-2zM242 483h1v2h-1zM239 487h1v2h-1zM244 475h2v13h-2zM246 481h1v2h-1zM243 483h1v2h-1zM248 481h2v7h-2zM250 484h1v2h-1zM247 485h1v2h-1zM252 477h2v17h-2zM254 485h1v2h-1zM251 487h1v2h-1zM256 475h2v16h-2zM258 482h1v2h-1zM255 485h1v2h-1zM260 494h2v13h-2zM262 500h1v2h-1zM259 502h1v2h-1zM264 504h2v14h-2zM266 510h1v2h-1zM263 512h1v2h-1zM268 497h2v22h-2zM270 507h1v2h-1zM267 510h1v2h-1zM272 492h2v18h-2zM274 500h1v2h-1zM271 503h1v2h-1zM276 484h2v27h-2zM278 496h1v2h-1zM275 500h1v2h-1zM280 497h2v14h-2zM282 503h1v2h-1zM279 505h1v2h-1zM284 481h2v26h-2zM286 493h1v2h-1zM283 497h1v2h-1zM288 475h2v11h-2zM290 480h1v2h-1zM287 482h1v2h-1zM292 470h2v13h-2zM294 476h1v2h-1zM291 478h1v2h-1zM296 475h2v8h-2zM298 479h1v2h-1zM295 480h1v2h-1zM300 475h2v8h-2zM302 479h1v2h-1zM299 480h1v2h-1zM304 475h2v13h-2zM306 481h1v2h-1zM303 483h1v2h-1zM308 450h2v31h-2zM310 464h1v2h-1zM307 469h1v2h-1zM312 446h2v13h-2zM314 452h1v2h-1zM311 454h1v2h-1zM316 446h2v7h-2zM318 449h1v2h-1zM315 450h1v2h-1zM320 446h2v7h-2zM322 449h1v2h-1zM319 450h1v2h-1zM324 443h2v11h-2zM326 448h1v2h-1zM323 450h1v2h-1zM328 416h2v30h-2zM330 430h1v2h-1zM327 434h1v2h-1zM332 396h2v25h-2zM334 407h1v2h-1zM331 411h1v2h-1zM336 390h2v15h-2zM338 397h1v2h-1zM335 399h1v2h-1zM340 399h2v17h-2zM342 407h1v2h-1zM339 409h1v2h-1zM344 405h2v24h-2zM346 416h1v2h-1zM343 419h1v2h-1zM348 412h2v17h-2zM350 420h1v2h-1zM347 422h1v2h-1zM352 405h2v18h-2zM354 413h1v2h-1zM351 416h1v2h-1zM356 408h2v29h-2zM358 421h1v2h-1zM355 425h1v2h-1zM360 428h2v15h-2zM362 435h1v2h-1zM359 437h1v2h-1zM364 440h2v18h-2zM366 448h1v2h-1zM363 451h1v2h-1zM368 432h2v7h-2zM370 435h1v2h-1zM367 436h1v2h-1zM372 415h2v20h-2zM374 424h1v2h-1zM371 427h1v2h-1zM376 428h2v15h-2zM378 435h1v2h-1zM375 437h1v2h-1zM380 432h2v11h-2zM382 437h1v2h-1zM379 439h1v2h-1zM384 437h2v24h-2zM386 448h1v2h-1zM383 451h1v2h-1zM388 440h2v22h-2zM390 450h1v2h-1zM387 453h1v2h-1zM392 455h2v20h-2zM394 464h1v2h-1zM391 467h1v2h-1zM396 454h2v27h-2zM398 466h1v2h-1zM395 470h1v2h-1zM400 471h2v15h-2zM402 478h1v2h-1zM399 480h1v2h-1zM404 471h2v13h-2zM406 477h1v2h-1zM403 479h1v2h-1zM408 476h2v12h-2zM410 481h1v2h-1zM407 483h1v2h-1zM412 478h2v17h-2zM414 486h1v2h-1zM411 488h1v2h-1zM416 475h2v17h-2zM418 483h1v2h-1zM415 485h1v2h-1zM420 451h2v21h-2zM422 460h1v2h-1zM419 464h1v2h-1zM424 435h2v22h-2zM426 445h1v2h-1zM423 448h1v2h-1zM428 437h2v11h-2zM430 442h1v2h-1zM427 444h1v2h-1zM432 432h2v9h-2zM434 436h1v2h-1zM431 437h1v2h-1zM436 432h2v15h-2zM438 439h1v2h-1zM435 441h1v2h-1zM440 417h2v15h-2zM442 424h1v2h-1zM439 426h1v2h-1zM444 413h2v22h-2zM446 423h1v2h-1zM443 426h1v2h-1zM448 406h2v10h-2zM450 410h1v2h-1zM447 412h1v2h-1zM452 400h2v11h-2zM454 405h1v2h-1zM451 407h1v2h-1zM456 401h2v20h-2zM458 410h1v2h-1zM455 413h1v2h-1zM460 404h2v21h-2zM462 413h1v2h-1zM459 417h1v2h-1zM464 401h2v17h-2zM466 409h1v2h-1zM463 411h1v2h-1zM468 404h2v6h-2zM470 407h1v2h-1zM467 408h1v2h-1zM472 390h2v18h-2zM474 398h1v2h-1zM471 401h1v2h-1zM476 387h2v10h-2zM478 392h1v2h-1zM475 393h1v2h-1zM480 390h2v11h-2zM482 395h1v2h-1zM479 397h1v2h-1zM484 398h2v15h-2zM486 405h1v2h-1zM483 407h1v2h-1zM488 393h2v20h-2zM490 402h1v2h-1zM487 405h1v2h-1zM492 394h2v4h-2zM494 396h1v2h-1zM491 396h1v2h-1zM496 392h2v11h-2zM498 397h1v2h-1zM495 399h1v2h-1zM500 369h2v32h-2zM502 383h1v2h-1zM499 388h1v2h-1zM504 368h2v9h-2zM506 372h1v2h-1zM503 373h1v2h-1zM508 355h2v20h-2zM510 364h1v2h-1zM507 367h1v2h-1zM512 347h2v17h-2zM514 355h1v2h-1zM511 357h1v2h-1zM516 312h2v40h-2zM518 330h1v2h-1zM515 336h1v2h-1zM520 300h2v22h-2zM522 310h1v2h-1zM519 313h1v2h-1zM524 318h2v13h-2zM526 324h1v2h-1zM523 326h1v2h-1zM528 312h2v23h-2zM530 322h1v2h-1zM527 326h1v2h-1zM532 309h2v16h-2zM534 316h1v2h-1zM531 319h1v2h-1zM536 309h2v16h-2zM538 316h1v2h-1zM535 319h1v2h-1zM540 311h2v22h-2zM542 321h1v2h-1zM539 324h1v2h-1zM544 330h2v16h-2zM546 337h1v2h-1zM543 340h1v2h-1zM548 321h2v25h-2zM550 332h1v2h-1zM547 336h1v2h-1zM552 310h2v20h-2zM554 319h1v2h-1zM551 322h1v2h-1zM556 309h2v16h-2zM558 316h1v2h-1zM555 319h1v2h-1zM560 311h2v15h-2zM562 318h1v2h-1zM559 320h1v2h-1zM564 325h2v10h-2zM566 330h1v2h-1zM563 331h1v2h-1zM568 293h2v25h-2zM570 304h1v2h-1zM567 308h1v2h-1zM572 286h2v40h-2zM574 304h1v2h-1zM571 310h1v2h-1zM576 302h2v19h-2zM578 311h1v2h-1zM575 313h1v2h-1zM580 304h2v10h-2zM582 308h1v2h-1zM579 310h1v2h-1zM584 272h2v40h-2zM586 290h1v2h-1zM583 296h1v2h-1zM588 265h2v23h-2zM590 275h1v2h-1zM587 279h1v2h-1zM592 265h2v14h-2zM594 271h1v2h-1zM591 273h1v2h-1zM596 243h2v43h-2zM598 262h1v2h-1zM595 269h1v2h-1zM600 229h2v28h-2zM602 242h1v2h-1zM599 246h1v2h-1zM604 234h2v17h-2zM606 242h1v2h-1zM603 244h1v2h-1zM608 234h2v17h-2zM610 242h1v2h-1zM607 244h1v2h-1zM612 230h2v42h-2zM614 249h1v2h-1zM611 255h1v2h-1zM616 264h2v19h-2zM618 273h1v2h-1zM615 275h1v2h-1zM620 258h2v20h-2zM622 267h1v2h-1zM619 270h1v2h-1zM624 244h2v13h-2zM626 250h1v2h-1zM623 252h1v2h-1zM628 241h2v19h-2zM630 250h1v2h-1zM627 252h1v2h-1zM632 244h2v13h-2zM634 250h1v2h-1zM631 252h1v2h-1zM636 243h2v17h-2zM638 251h1v2h-1zM635 253h1v2h-1zM640 247h2v11h-2zM642 252h1v2h-1zM639 254h1v2h-1zM644 245h2v13h-2zM646 251h1v2h-1zM643 253h1v2h-1zM648 251h2v17h-2zM650 259h1v2h-1zM647 261h1v2h-1zM652 250h2v17h-2zM654 258h1v2h-1zM651 260h1v2h-1zM656 200h2v43h-2zM658 219h1v2h-1zM655 226h1v2h-1zM660 200h2v30h-2zM662 214h1v2h-1zM659 218h1v2h-1zM664 223h2v41h-2zM666 241h1v2h-1zM663 248h1v2h-1zM668 264h2v30h-2zM670 278h1v2h-1zM667 282h1v2h-1zM672 251h2v41h-2zM674 269h1v2h-1zM671 276h1v2h-1zM676 255h2v33h-2zM678 270h1v2h-1zM675 275h1v2h-1zM680 289h2v22h-2zM682 299h1v2h-1zM679 302h1v2h-1zM684 278h2v26h-2zM686 290h1v2h-1zM683 294h1v2h-1zM688 278h2v9h-2zM690 282h1v2h-1zM687 283h1v2h-1zM692 224h2v57h-2zM694 250h1v2h-1zM691 258h1v2h-1zM696 247h2v28h-2zM698 260h1v2h-1zM695 264h1v2h-1zM700 247h2v27h-2zM702 259h1v2h-1zM699 263h1v2h-1zM704 240h2v20h-2zM706 249h1v2h-1zM703 252h1v2h-1zM708 244h2v18h-2zM710 252h1v2h-1zM707 255h1v2h-1zM712 244h2v20h-2zM714 253h1v2h-1zM711 256h1v2h-1zM716 257h2v13h-2zM718 263h1v2h-1zM715 265h1v2h-1zM720 270h2v19h-2zM722 279h1v2h-1zM719 281h1v2h-1zM724 272h2v9h-2zM726 276h1v2h-1zM723 277h1v2h-1zM728 262h2v16h-2zM730 269h1v2h-1zM727 272h1v2h-1zM732 260h2v10h-2zM734 264h1v2h-1zM731 266h1v2h-1zM736 231h2v36h-2zM738 247h1v2h-1zM735 253h1v2h-1zM740 231h2v16h-2zM742 238h1v2h-1zM739 241h1v2h-1zM744 233h2v19h-2zM746 242h1v2h-1zM743 244h1v2h-1zM748 240h2v12h-2zM750 245h1v2h-1zM747 247h1v2h-1zM752 224h2v16h-2zM754 231h1v2h-1zM751 234h1v2h-1zM756 218h2v15h-2zM758 225h1v2h-1zM755 227h1v2h-1zM760 226h2v7h-2zM762 229h1v2h-1zM759 230h1v2h-1zM764 207h2v38h-2zM766 224h1v2h-1zM763 230h1v2h-1zM768 213h2v29h-2zM770 226h1v2h-1zM767 230h1v2h-1zM772 213h2v29h-2zM774 226h1v2h-1zM771 230h1v2h-1zM776 213h2v13h-2zM778 219h1v2h-1zM775 221h1v2h-1zM780 193h2v23h-2zM782 203h1v2h-1zM779 207h1v2h-1zM784 182h2v23h-2zM786 192h1v2h-1zM783 196h1v2h-1zM788 193h2v28h-2zM790 206h1v2h-1zM787 210h1v2h-1zM792 188h2v33h-2zM794 203h1v2h-1zM791 208h1v2h-1zM796 193h2v8h-2zM798 197h1v2h-1zM795 198h1v2h-1zM800 193h2v13h-2zM802 199h1v2h-1zM799 201h1v2h-1zM804 193h2v8h-2zM806 197h1v2h-1zM803 198h1v2h-1zM808 190h2v20h-2zM810 199h1v2h-1zM807 202h1v2h-1zM812 157h2v31h-2zM814 171h1v2h-1zM811 176h1v2h-1zM816 156h2v32h-2zM818 170h1v2h-1zM815 175h1v2h-1zM820 160h2v27h-2zM822 172h1v2h-1zM819 176h1v2h-1zM824 157h2v23h-2zM826 167h1v2h-1zM823 171h1v2h-1zM828 164h2v13h-2zM830 170h1v2h-1zM827 172h1v2h-1zM832 142h2v30h-2zM834 156h1v2h-1zM831 160h1v2h-1zM836 106h2v69h-2zM838 137h1v2h-1zM835 147h1v2h-1zM840 156h2v14h-2zM842 162h1v2h-1zM839 164h1v2h-1zM844 144h2v25h-2zM846 155h1v2h-1zM843 159h1v2h-1zM848 160h2v40h-2zM850 178h1v2h-1zM847 184h1v2h-1zM852 164h2v16h-2zM854 171h1v2h-1zM851 174h1v2h-1zM856 157h2v33h-2zM858 172h1v2h-1zM855 177h1v2h-1zM860 164h2v23h-2zM862 174h1v2h-1zM859 178h1v2h-1zM864 182h2v18h-2zM866 190h1v2h-1zM863 193h1v2h-1zM868 164h2v21h-2zM870 173h1v2h-1zM867 177h1v2h-1zM872 172h2v10h-2zM874 176h1v2h-1zM871 178h1v2h-1zM876 174h2v14h-2zM878 180h1v2h-1zM875 182h1v2h-1zM880 178h2v43h-2zM882 197h1v2h-1zM879 204h1v2h-1zM884 208h2v26h-2zM886 220h1v2h-1zM883 224h1v2h-1zM888 213h2v21h-2zM890 222h1v2h-1zM887 226h1v2h-1zM892 213h2v24h-2zM894 224h1v2h-1zM891 227h1v2h-1zM896 194h2v27h-2zM898 206h1v2h-1zM895 210h1v2h-1zM900 190h2v21h-2zM902 199h1v2h-1zM899 203h1v2h-1zM904 188h2v18h-2zM906 196h1v2h-1zM903 199h1v2h-1zM908 160h2v28h-2zM910 173h1v2h-1zM907 177h1v2h-1zM912 158h2v8h-2zM914 162h1v2h-1zM911 163h1v2h-1zM916 152h2v10h-2zM918 156h1v2h-1zM915 158h1v2h-1zM920 146h2v12h-2zM922 151h1v2h-1zM919 153h1v2h-1zM924 129h2v19h-2zM926 138h1v2h-1zM923 140h1v2h-1zM928 121h2v29h-2zM930 134h1v2h-1zM927 138h1v2h-1zM932 80h2v51h-2zM934 103h1v2h-1zM931 111h1v2h-1zM936 68h2v24h-2zM938 79h1v2h-1zM935 82h1v2h-1zM940 80h2v31h-2zM942 94h1v2h-1zM939 99h1v2h-1zM944 88h2v25h-2zM946 99h1v2h-1zM943 103h1v2h-1zM948 88h2v15h-2zM950 95h1v2h-1zM947 97h1v2h-1zM952 90h2v29h-2zM954 103h1v2h-1zM951 107h1v2h-1zM956 99h2v20h-2zM958 108h1v2h-1zM955 111h1v2h-1zM960 99h2v18h-2zM962 107h1v2h-1zM959 110h1v2h-1zM964 99h2v26h-2zM966 111h1v2h-1zM963 115h1v2h-1zM968 125h2v25h-2zM970 136h1v2h-1zM967 140h1v2h-1zM972 129h2v29h-2zM974 142h1v2h-1zM971 146h1v2h-1zM976 139h2v19h-2zM978 148h1v2h-1zM975 150h1v2h-1zM980 125h2v27h-2zM982 137h1v2h-1zM979 141h1v2h-1zM984 107h2v28h-2zM986 120h1v2h-1zM983 124h1v2h-1zM988 123h2v16h-2zM990 130h1v2h-1zM987 133h1v2h-1zM992 130h2v8h-2zM994 134h1v2h-1zM991 135h1v2h-1zM996 117h2v20h-2zM998 126h1v2h-1zM995 129h1v2h-1zM1000 113h2v35h-2zM1002 129h1v2h-1zM999 134h1v2h-1zM1004 93h2v44h-2zM1006 113h1v2h-1zM1003 119h1v2h-1zM1008 109h2v33h-2zM1010 124h1v2h-1zM1007 129h1v2h-1zM1012 104h2v15h-2zM1014 111h1v2h-1zM1011 113h1v2h-1zM1016 80h2v37h-2zM1018 97h1v2h-1zM1015 102h1v2h-1zM1020 88h2v14h-2zM1022 94h1v2h-1zM1019 96h1v2h-1zM1024 92h2v18h-2zM1026 100h1v2h-1zM1023 103h1v2h-1zM1028 99h2v19h-2zM1030 108h1v2h-1zM1027 110h1v2h-1zM1032 104h2v26h-2zM1034 116h1v2h-1zM1031 120h1v2h-1zM1036 118h2v17h-2zM1038 126h1v2h-1zM1035 128h1v2h-1zM1040 122h2v16h-2zM1042 129h1v2h-1zM1039 132h1v2h-1zM1044 130h2v24h-2zM1046 141h1v2h-1zM1043 144h1v2h-1zM1048 162h2v17h-2zM1050 170h1v2h-1zM1047 172h1v2h-1zM1052 171h2v8h-2zM1054 175h1v2h-1zM1051 176h1v2h-1zM1056 175h2v36h-2zM1058 191h1v2h-1zM1055 197h1v2h-1zM1060 197h2v8h-2zM1062 201h1v2h-1zM1059 202h1v2h-1zM1064 162h2v39h-2zM1066 180h1v2h-1zM1063 185h1v2h-1zM1068 167h2v14h-2zM1070 173h1v2h-1zM1067 175h1v2h-1zM1072 182h2v19h-2zM1074 191h1v2h-1zM1071 193h1v2h-1zM1076 205h2v13h-2zM1078 211h1v2h-1zM1075 213h1v2h-1zM1080 213h2v19h-2zM1082 222h1v2h-1zM1079 224h1v2h-1zM1084 213h2v19h-2zM1086 222h1v2h-1zM1083 224h1v2h-1zM1088 222h2v12h-2zM1090 227h1v2h-1zM1087 229h1v2h-1zM1092 218h2v20h-2zM1094 227h1v2h-1zM1091 230h1v2h-1zM1096 207h2v15h-2zM1098 214h1v2h-1zM1095 216h1v2h-1zM1100 203h2v10h-2zM1102 208h1v2h-1zM1099 209h1v2h-1zM1104 191h2v27h-2zM1106 203h1v2h-1zM1103 207h1v2h-1zM1108 213h2v15h-2zM1110 220h1v2h-1zM1107 222h1v2h-1zM1112 226h2v32h-2zM1114 240h1v2h-1zM1111 245h1v2h-1zM1116 240h2v32h-2zM1118 254h1v2h-1zM1115 259h1v2h-1zM1120 248h2v29h-2zM1122 261h1v2h-1zM1119 265h1v2h-1zM1124 244h2v14h-2zM1126 250h1v2h-1zM1123 252h1v2h-1zM1128 229h2v29h-2zM1130 242h1v2h-1zM1127 246h1v2h-1zM1132 243h2v15h-2zM1134 250h1v2h-1zM1131 252h1v2h-1zM1136 246h2v12h-2zM1138 251h1v2h-1zM1135 253h1v2h-1zM1140 286h2v30h-2zM1142 300h1v2h-1zM1139 304h1v2h-1zM1144 307h2v11h-2zM1146 312h1v2h-1zM1143 314h1v2h-1zM1148 312h2v14h-2zM1150 318h1v2h-1zM1147 320h1v2h-1zM1152 310h2v35h-2zM1154 326h1v2h-1zM1151 331h1v2h-1zM1156 321h2v14h-2zM1158 327h1v2h-1zM1155 329h1v2h-1zM1160 315h2v14h-2zM1162 321h1v2h-1zM1159 323h1v2h-1zM1164 307h2v40h-2zM1166 325h1v2h-1zM1163 331h1v2h-1zM1168 289h2v40h-2zM1170 307h1v2h-1zM1167 313h1v2h-1z" fill="#000"/>
<polyline points="4.6,427.2 11.4,426.4 17.5,429.0 41.0,429.0 45.0,416.8 49.8,416.0 53.3,410.2 59.4,415.0 92.6,415.0 100.0,418.0 101.6,417.8 109.3,450.3 115.0,460.0 125.5,469.4 129.4,481.0 137.0,510.5 163.8,510.5 173.3,495.2 182.0,494.0 184.8,459.9 190.0,460.0 201.0,470.3 220.9,471.0 224.8,487.7 253.3,488.5 259.7,497.2 265.2,520.1 289.0,520.1 293.7,505.9 305.6,505.9 308.8,480.6 329.4,479.8 333.3,452.8 338.0,448.9 346.8,448.9 353.1,422.8 357.9,433.8 365.0,444.9 381.6,444.9 392.5,475.0 403.9,482.2 413.8,487.2 438.0,487.2 442.2,472.3 445.0,452.4 449.3,451.7 454.3,442.4 458.6,441.0 461.4,426.8 465.7,425.4 470.6,416.2 486.3,414.7 489.8,406.2 510.3,405.4 514.2,401.4 521.4,401.4 524.7,378.5 526.0,377.2 531.9,360.2 537.1,352.4 540.4,331.4 542.4,332.7 545.0,336.6 569.3,337.0 573.7,329.0 590.2,328.2 593.7,310.8 602.5,310.0 606.8,302.0 610.3,285.4 613.8,275.8 641.4,276.6 645.6,261.0 661.3,261.0 665.5,265.3 669.8,286.6 672.6,286.6 676.9,302.2 701.0,302.2 713.8,275.2 716.6,275.2 720.9,282.3 745.0,282.3 752.2,268.0 757.8,267.4 762.0,246.8 780.0,246.8 786.5,245.0 790.6,237.5 794.7,235.8 797.0,217.0 805.3,212.1 813.5,211.3 818.4,203.9 825.0,203.0 834.8,183.4 841.3,181.8 845.4,170.3 849.5,193.2 875.7,193.2 879.0,190.0 885.5,229.3 913.6,228.7 918.5,221.2 921.5,205.5 925.4,204.5 931.3,176.0 934.2,160.3 939.2,156.3 945.0,132.7 949.0,126.8 953.9,123.9 958.8,117.0 963.7,119.0 968.6,156.3 993.2,156.3 997.2,144.5 1008.0,137.7 1017.8,137.7 1025.7,122.9 1039.8,127.1 1043.7,134.0 1045.7,164.4 1051.6,172.3 1055.5,179.2 1058.4,200.8 1061.4,203.8 1072.2,202.8 1081.0,224.4 1088.9,232.3 1110.0,232.2 1114.5,252.0 1117.6,265.9 1132.9,265.9 1136.7,288.8 1141.3,305.6 1152.0,333.1 1169.6,336.2" fill="none" stroke="#800000" stroke-width="2" shape-rendering="auto"/>
<polyline points="4.4,388.0 21.0,416.0 25.3,416.0 28.8,380.0 53.3,379.7 56.8,385.3 64.6,388.8 69.9,395.8 72.5,395.8 82.0,382.7 105.9,382.4 108.9,404.4 125.5,404.4 133.2,450.3 139.0,459.9 149.4,469.4 157.0,491.4 161.0,458.0 165.7,458.0 173.3,442.7 190.0,443.0 205.8,444.1 233.5,444.6 237.5,465.5 242.3,468.4 261.3,468.4 272.3,489.3 281.0,494.8 286.6,479.8 291.3,475.0 305.6,475.0 310.3,448.0 315.0,445.0 324.6,444.0 329.4,418.0 333.3,398.2 361.0,398.2 365.0,408.5 373.7,408.5 380.8,425.0 397.5,425.4 401.0,436.0 405.3,436.8 411.0,454.5 414.5,457.4 418.0,473.7 421.0,442.4 425.9,443.0 429.5,436.0 433.7,434.6 438.0,426.8 442.2,424.7 445.0,414.0 452.9,399.8 469.2,399.8 477.0,387.0 497.2,386.4 501.8,375.9 509.6,358.9 514.9,348.4 516.8,317.0 520.1,315.0 564.0,316.0 568.4,298.5 581.5,298.5 586.8,275.8 593.7,267.0 598.0,248.0 602.5,248.0 609.4,232.2 612.0,230.5 632.8,231.2 636.4,244.0 649.2,244.7 655.6,224.0 657.7,208.5 681.1,208.5 684.7,218.4 689.0,249.7 729.4,249.0 733.0,256.8 738.0,235.5 742.2,231.9 750.7,231.9 755.0,226.2 762.0,225.5 765.0,211.3 777.5,211.3 784.8,192.4 806.9,191.6 812.7,162.1 829.9,162.1 833.1,142.5 856.9,142.5 864.2,160.5 869.2,161.3 874.0,172.0 879.0,173.6 893.7,173.6 901.9,186.7 903.8,187.8 908.7,160.3 913.6,156.3 919.5,146.5 922.4,128.8 930.3,124.9 932.3,91.5 937.2,74.7 960.8,74.7 965.7,89.5 972.6,89.5 977.5,110.1 985.4,110.1 988.3,129.8 997.2,129.8 1001.1,113.0 1009.6,111.8 1013.6,108.4 1016.5,91.2 1018.5,90.2 1041.0,90.2 1049.6,99.6 1056.5,122.2 1065.3,128.0 1069.2,165.4 1074.2,173.3 1093.8,173.3 1097.8,203.8 1124.3,203.8 1130.2,208.7 1137.0,244.5 1153.5,244.5 1158.0,252.9 1165.7,307.0 1169.6,291.9" fill="none" stroke="#008000" stroke-width="2" shape-rendering="auto"/>
<path d="M161.5 422.0L197.5 368.5M197.0 375.5L197.5 368.5L191.2 371.6" fill="none" stroke="#000080" stroke-width="2" shape-rendering="auto"/>
<path d="M209.4 375.0L257.5 440.3M251.1 437.5L257.5 440.3L256.7 433.3" fill="none" stroke="#000080" stroke-width="2" shape-rendering="auto"/>
<path d="M433.5 392.0L609.3 204.0M607.7 210.8L609.3 204.0L602.6 206.0" fill="none" stroke="#000080" stroke-width="2" shape-rendering="auto"/>
<path d="M892.3 153.0L925.5 89.3M925.8 96.3L925.5 89.3L919.6 93.1" fill="none" stroke="#000080" stroke-width="2" shape-rendering="auto"/>
<text x="205" y="278.8" font-family="Liberation Sans" font-weight="bold" font-style="italic" font-size="20" fill="#000080" text-anchor="middle" shape-rendering="auto">A</text>
<text x="525.6" y="192.6" font-family="Liberation Sans" font-weight="bold" font-style="italic" font-size="20" fill="#000080" text-anchor="middle" shape-rendering="auto">B</text>
<text x="942" y="210.3" font-family="Liberation Sans" font-weight="bold" font-style="italic" font-size="20" fill="#000080" text-anchor="middle" shape-rendering="auto">C</text>
<path d="M60 545.5L67 553L60 560.5L53 553Z" fill="#30b0a8" fill-opacity="0.3" stroke="#28b0a8" stroke-width="1.6" stroke-opacity="0.5" shape-rendering="auto"/>
<rect x="58" y="549" width="4" height="4" fill="#20b0b0" opacity="0.6"/>
<path d="M389 545.5L396 553L389 560.5L382 553Z" fill="#30b0a8" fill-opacity="0.3" stroke="#28b0a8" stroke-width="1.6" stroke-opacity="0.5" shape-rendering="auto"/>
<rect x="387" y="549" width="4" height="4" fill="#20b0b0" opacity="0.6"/>
<path d="M568 545.5L575 553L568 560.5L561 553Z" fill="#30b0a8" fill-opacity="0.3" stroke="#28b0a8" stroke-width="1.6" stroke-opacity="0.5" shape-rendering="auto"/>
<rect x="566" y="549" width="4" height="4" fill="#20b0b0" opacity="0.6"/>
<path d="M724 545.5L731 553L724 560.5L717 553Z" fill="#30b0a8" fill-opacity="0.3" stroke="#28b0a8" stroke-width="1.6" stroke-opacity="0.5" shape-rendering="auto"/>
<rect x="722" y="549" width="4" height="4" fill="#20b0b0" opacity="0.6"/>
<path d="M900 545.5L907 553L900 560.5L893 553Z" fill="#30b0a8" fill-opacity="0.3" stroke="#28b0a8" stroke-width="1.6" stroke-opacity="0.5" shape-rendering="auto"/>
<rect x="898" y="549" width="4" height="4" fill="#20b0b0" opacity="0.6"/>
<path d="M1072 545.5L1079 553L1072 560.5L1065 553Z" fill="#30b0a8" fill-opacity="0.3" stroke="#28b0a8" stroke-width="1.6" stroke-opacity="0.5" shape-rendering="auto"/>
<rect x="1070" y="549" width="4" height="4" fill="#20b0b0" opacity="0.6"/>
<path d="M220.5 545L228 553L220.5 561L213 553Z" fill="none" stroke="#20a0a0" stroke-width="1.3" shape-rendering="auto"/>
<rect x="218.5" y="548.5" width="5" height="5" fill="#e0ffff" stroke="#20a0a0" stroke-width="1.3"/>
<path d="M81.5 645.7L385.6 730.9M336.7 601.3L488.7 732M832.5 610.4L943 732M1133 661.1L1182.5 680.5" fill="none" stroke="#ff2020" stroke-width="1" shape-rendering="auto"/>
<rect x="0" y="701" width="1171" height="18" fill="#ff0000"/>
<rect x="0" y="700" width="1172" height="1" fill="#a8e0a0"/>
<rect x="0" y="719" width="1172" height="1" fill="#f8c890"/>
<rect x="1171" y="700" width="1" height="20" fill="#f0e0a0"/>
<path d="M0 622.2L81.5 644.8M336.7 601.3L424.4 676.5M832.5 610.4L903.1 685.6M949.3 584.1L1133 661.1" fill="none" stroke="#c000c0" stroke-width="4" shape-rendering="auto"/>
<polyline points="5.0,672.0 13.6,686.5 21.7,682.0 27.2,659.3 29.0,658.4 34.4,664.7 42.6,658.4 45.3,660.2 49.8,653.9 54.3,657.5 58.0,654.4 61.6,653.9 68.0,647.5 72.5,646.6 80.6,647.5 82.4,647.5 85.1,678.3 88.8,669.3 92.4,668.4 96.9,673.8 101.4,663.8 105.0,672.9 108.7,676.5 113.2,680.1 116.8,679.2 120.5,683.8 125.0,691.0 129.5,695.5 133.2,709.1 137.7,722.7 142.2,710.0 146.7,710.9 151.3,708.2 154.0,703.7 158.5,709.1 161.2,681.0 168.5,671.0 173.9,660.2 179.3,657.5 188.4,643.9 193.8,632.1 200.0,635.7 204.5,639.4 209.0,629.4 212.6,634.8 217.2,659.3 221.7,661.1 226.2,672.9 231.7,678.3 237.1,672.0 241.6,674.7 246.2,669.3 251.6,671.1 257.0,669.3 261.6,673.8 265.2,692.8 269.7,676.5 274.2,670.2 278.8,668.4 284.2,654.8 288.7,648.4 293.3,659.3 297.8,655.7 301.4,659.3 305.9,653.9 309.6,638.5 316.8,627.6 321.3,621.3 325.9,624.0 330.4,614.9 334.9,602.2 336.7,603.1 340.4,617.6 344.0,624.0 349.4,620.3 354.0,623.1 358.5,633.9 363.0,640.3 365.7,649.3 371.2,651.1 378.4,654.8 382.9,663.8 386.6,678.3 388.2,687.4 392.7,704.6 399.9,698.2 406.3,704.6 411.7,694.6 417.1,683.8 420.8,669.3 425.3,676.5 428.9,670.2 433.4,670.2 438.0,662.0 442.5,650.2 449.7,626.7 453.4,624.0 460.6,628.5 468.8,619.4 472.4,620.3 476.9,629.4 482.4,633.9 485.0,640.3 488.7,632.1 493.2,639.4 496.8,643.0 503.2,638.5 506.8,638.5 513.2,631.2 516.8,607.7 520.4,612.2 525.8,613.1 529.5,611.3 534.0,614.0 537.6,613.1 545.8,623.1 553.0,610.4 556.6,624.9 561.2,631.2 565.7,637.6 569.3,633.9 572.9,649.3 576.6,653.9 584.5,646.6 593.6,636.7 597.2,619.4 601.7,618.5 605.3,620.3 609.0,614.9 613.5,629.4 617.1,633.0 621.6,623.1 626.2,625.8 632.5,622.2 637.9,629.4 644.3,648.4 650.6,648.4 657.0,635.7 661.5,643.9 665.1,669.3 668.7,656.6 673.3,641.2 678.7,672.0 685.0,668.4 689.6,653.9 694.1,663.8 698.6,653.0 705.0,648.4 714.0,681.0 721.3,664.7 725.8,657.5 729.4,665.6 737.6,637.6 742.1,642.1 745.7,662.9 750.2,646.6 754.8,650.2 757.5,648.4 762.0,660.2 765.5,637.6 769.0,645.7 773.6,628.5 778.1,621.3 783.6,615.8 789.9,621.3 797.1,629.4 802.6,624.9 808.9,625.8 813.4,612.2 820.7,624.0 825.2,616.7 829.7,626.7 833.4,614.0 839.7,634.0 845.1,626.7 849.7,648.4 853.3,639.4 857.8,645.7 864.2,662.0 869.6,668.4 873.2,657.5 879.6,674.7 885.0,689.2 889.5,705.5 896.8,683.8 902.2,688.3 904.9,666.5 912.2,654.8 920.3,629.4 925.8,632.1 930.3,626.7 936.6,585.9 941.2,588.6 948.4,585.0 952.8,607.7 957.2,605.0 961.8,610.4 968.1,645.7 972.6,647.5 977.2,653.9 981.7,651.1 986.2,656.6 993.5,683.8 999.8,662.9 1005.3,671.1 1009.8,658.4 1014.3,659.3 1025.2,629.4 1029.7,640.3 1035.1,652.0 1041.5,657.5 1046.0,673.8 1053.3,681.0 1057.8,698.2 1068.7,686.5 1075.0,703.7 1081.3,712.7 1089.5,702.8 1096.7,684.7 1102.2,663.8 1108.5,663.8 1113.0,665.6 1118.5,671.1 1124.8,671.1 1130.3,662.9 1134.8,667.4 1140.2,683.8 1144.7,685.6 1147.2,690.0 1153.6,710.9 1164.3,706.5 1166.9,702.7 1170.0,677.4" fill="none" stroke="#000080" stroke-width="3" stroke-linejoin="round" shape-rendering="auto"/>
<path d="M169.4 695.5L197.5 651.1M197.2 658.1L197.5 651.1L191.3 654.4" fill="none" stroke="#000080" stroke-width="2" shape-rendering="auto"/>
<path d="M429.8 700.0L461.5 654.8M460.9 661.8L461.5 654.8L455.2 657.8" fill="none" stroke="#000080" stroke-width="2" shape-rendering="auto"/>
<path d="M905.8 708.2L937.5 647.5M937.8 654.5L937.5 647.5L931.6 651.3" fill="none" stroke="#000080" stroke-width="2" shape-rendering="auto"/>
<rect x="0" y="878" width="1196" height="1" fill="#fff"/>
<path d="M4 824h3V879h-3zM8 825h3V879h-3zM12 825h3V879h-3zM16 825h3V879h-3zM20 828h3V879h-3zM24 827h3V879h-3zM28 834h3V879h-3zM32 848h3V879h-3zM36 855h3V879h-3zM40 856h3V879h-3zM44 855h3V879h-3zM48 856h3V879h-3zM52 851h3V879h-3zM56 851h3V879h-3zM60 844h3V879h-3zM64 850h3V879h-3zM68 861h3V879h-3zM72 861h3V879h-3zM76 864h3V879h-3zM80 871h3V879h-3zM84 850h3V879h-3zM88 850h3V879h-3zM92 848h3V879h-3zM96 845h3V879h-3zM100 847h3V879h-3zM104 838h3V879h-3zM108 821h3V879h-3zM112 812h3V879h-3zM116 812h3V879h-3zM120 811h3V879h-3zM124 809h3V879h-3zM128 797h3V879h-3zM132 789h3V879h-3zM136 776h3V879h-3zM140 754h3V879h-3zM144 774h3V879h-3zM148 782h3V879h-3zM152 783h3V879h-3zM156 785h3V879h-3zM160 787h3V879h-3zM164 813h3V879h-3zM168 831h3V879h-3zM172 836h3V879h-3zM176 839h3V879h-3zM180 842h3V879h-3zM184 835h3V879h-3zM188 846h3V879h-3zM192 859h3V879h-3zM196 856h3V879h-3zM200 848h3V879h-3zM204 847h3V879h-3zM208 854h3V879h-3zM212 859h3V879h-3zM216 850h3V879h-3zM220 852h3V879h-3zM224 828h3V879h-3zM228 830h3V879h-3zM232 836h3V879h-3zM236 836h3V879h-3zM240 831h3V879h-3zM244 838h3V879h-3zM248 838h3V879h-3zM252 833h3V879h-3zM256 830h3V879h-3zM260 818h3V879h-3zM264 809h3V879h-3zM268 813h3V879h-3zM272 822h3V879h-3zM276 823h3V879h-3zM280 820h3V879h-3zM284 823h3V879h-3zM288 843h3V879h-3zM292 847h3V879h-3zM296 861h3V879h-3zM300 864h3V879h-3zM304 861h3V879h-3zM308 856h3V879h-3zM312 868h3V879h-3zM316 874h3V879h-3zM320 867h3V879h-3zM324 871h3V879h-3zM328 858h3V879h-3zM332 862h3V879h-3zM336 875h3V879h-3zM340 865h3V879h-3zM344 854h3V879h-3zM348 858h3V879h-3zM352 864h3V879h-3zM356 846h3V879h-3zM360 841h3V879h-3zM364 830h3V879h-3zM368 846h3V879h-3zM372 849h3V879h-3zM376 842h3V879h-3zM380 846h3V879h-3zM384 831h3V879h-3zM388 829h3V879h-3zM392 813h3V879h-3zM396 811h3V879h-3zM400 807h3V879h-3zM404 809h3V879h-3zM408 806h3V879h-3zM412 799h3V879h-3zM416 802h3V879h-3zM420 818h3V879h-3zM424 839h3V879h-3zM428 846h3V879h-3zM432 851h3V879h-3zM436 852h3V879h-3zM440 875h3V879h-3zM444 864h3V879h-3zM448 872h3V879h-3zM452 871h3V879h-3zM456 862h3V879h-3zM460 855h3V879h-3zM464 864h3V879h-3zM468 871h3V879h-3zM472 867h3V879h-3zM476 871h3V879h-3zM480 868h3V879h-3zM484 859h3V879h-3zM488 858h3V879h-3zM492 870h3V879h-3zM496 863h3V879h-3zM500 860h3V879h-3zM504 873h3V879h-3zM508 867h3V879h-3zM512 870h3V879h-3zM516 853h3V879h-3zM520 874h3V879h-3zM524 867h3V879h-3zM528 864h3V879h-3zM532 869h3V879h-3zM536 873h3V879h-3zM540 865h3V879h-3zM544 857h3V879h-3zM548 857h3V879h-3zM552 868h3V879h-3zM556 872h3V879h-3zM560 870h3V879h-3zM564 865h3V879h-3zM568 865h3V879h-3zM572 860h3V879h-3zM576 863h3V879h-3zM580 867h3V879h-3zM584 861h3V879h-3zM588 871h3V879h-3zM592 876h3V879h-3zM596 854h3V879h-3zM600 875h3V879h-3zM604 871h3V879h-3zM608 867h3V879h-3zM612 852h3V879h-3zM616 845h3V879h-3zM620 848h3V879h-3zM624 862h3V879h-3zM628 860h3V879h-3zM632 863h3V879h-3zM636 861h3V879h-3zM640 861h3V879h-3zM644 857h3V879h-3zM648 855h3V879h-3zM652 856h3V879h-3zM656 858h3V879h-3zM660 867h3V879h-3zM664 844h3V879h-3zM668 826h3V879h-3zM672 831h3V879h-3zM676 821h3V879h-3zM680 815h3V879h-3zM684 820h3V879h-3zM688 831h3V879h-3zM692 834h3V879h-3zM696 835h3V879h-3zM700 839h3V879h-3zM704 847h3V879h-3zM708 840h3V879h-3zM712 845h3V879h-3zM716 837h3V879h-3zM720 829h3V879h-3zM724 832h3V879h-3zM728 835h3V879h-3zM732 840h3V879h-3zM736 842h3V879h-3zM740 855h3V879h-3zM744 860h3V879h-3zM748 866h3V879h-3zM752 870h3V879h-3zM756 874h3V879h-3zM760 863h3V879h-3zM764 856h3V879h-3zM768 859h3V879h-3zM772 859h3V879h-3zM776 869h3V879h-3zM780 867h3V879h-3zM784 871h3V879h-3zM788 861h3V879h-3zM792 860h3V879h-3zM796 873h3V879h-3zM800 870h3V879h-3zM804 873h3V879h-3zM808 863h3V879h-3zM812 864h3V879h-3zM816 864h3V879h-3zM820 864h3V879h-3zM824 869h3V879h-3zM828 871h3V879h-3zM832 862h3V879h-3zM836 860h3V879h-3zM840 863h3V879h-3zM844 863h3V879h-3zM848 846h3V879h-3zM852 854h3V879h-3zM856 851h3V879h-3zM860 853h3V879h-3zM864 846h3V879h-3zM868 849h3V879h-3zM872 853h3V879h-3zM876 851h3V879h-3zM880 834h3V879h-3zM884 826h3V879h-3zM888 826h3V879h-3zM892 824h3V879h-3zM896 834h3V879h-3zM900 840h3V879h-3zM904 843h3V879h-3zM908 852h3V879h-3zM912 866h3V879h-3zM916 869h3V879h-3zM920 869h3V879h-3zM924 874h3V879h-3zM928 865h3V879h-3zM932 853h3V879h-3zM936 870h3V879h-3zM940 860h3V879h-3zM944 858h3V879h-3zM948 865h3V879h-3zM952 855h3V879h-3zM956 854h3V879h-3zM960 857h3V879h-3zM964 846h3V879h-3zM968 835h3V879h-3zM972 834h3V879h-3zM976 836h3V879h-3zM980 838h3V879h-3zM984 845h3V879h-3zM988 846h3V879h-3zM992 845h3V879h-3zM996 845h3V879h-3zM1000 839h3V879h-3zM1004 849h3V879h-3zM1008 843h3V879h-3zM1012 855h3V879h-3zM1016 856h3V879h-3zM1020 864h3V879h-3zM1024 868h3V879h-3zM1028 864h3V879h-3zM1032 858h3V879h-3zM1036 854h3V879h-3zM1040 853h3V879h-3zM1044 838h3V879h-3zM1048 830h3V879h-3zM1052 831h3V879h-3zM1056 813h3V879h-3zM1060 817h3V879h-3zM1064 818h3V879h-3zM1068 830h3V879h-3zM1072 816h3V879h-3zM1076 809h3V879h-3zM1080 802h3V879h-3zM1084 801h3V879h-3zM1088 800h3V879h-3zM1092 798h3V879h-3zM1096 807h3V879h-3zM1100 812h3V879h-3zM1104 812h3V879h-3zM1108 807h3V879h-3zM1112 797h3V879h-3zM1116 794h3V879h-3zM1120 793h3V879h-3zM1124 804h3V879h-3zM1128 827h3V879h-3zM1132 827h3V879h-3zM1136 808h3V879h-3zM1140 793h3V879h-3zM1144 792h3V879h-3zM1148 787h3V879h-3zM1152 775h3V879h-3zM1156 795h3V879h-3zM1160 801h3V879h-3zM1164 790h3V879h-3zM1168 801h3V879h-3z" fill="#000"/>
<g shape-rendering="auto"><path d="M2.5 24L5.5 22L16.5 27.5L16 32Z" fill="#e8d040"/><path d="M35 25L32.5 23L21.5 27.5L22 32Z" fill="#e8d040"/><path d="M2.5 24L16 32M35 25L22 32" stroke="#f8e890" stroke-width="1" stroke-dasharray="1 1"/><rect x="4" y="11" width="11.5" height="5.6" rx="1.2" fill="#c8b850"/><rect x="4" y="11.3" width="1.8" height="5" fill="#f4e8b0"/><path d="M16.6 4.5L21.8 4.5L20.8 9L20.3 30L17.8 30L17.4 9Z" fill="#d8c448"/><ellipse cx="19.2" cy="4.8" rx="2.6" ry="2" fill="#f0dc90"/><rect x="10" y="18.8" width="17" height="2.4" fill="#dcc050"/><path d="M22.8 21L22.8 12Q24.5 9.5 26.5 11L27 21Z" fill="#d8c450"/><path d="M11 20.5L6.5 25M26.5 20.5L30.5 25" stroke="#d8c040" stroke-width="2"/><path d="M14.8 25L22.7 25L22.3 34L15.3 34Z" fill="#ecd440"/></g>
<rect x="1196" y="32" width="2" height="847" fill="#fff"/>
<rect x="1" y="563" width="1197" height="3" fill="#800000"/>
<rect x="1" y="732" width="1197" height="3" fill="#800000"/>
<path d="M1193 562h3v1h-3zM1188 553h8v1h-8zM1193 545h3v1h-3zM1193 537h3v1h-3zM1193 529h3v1h-3zM1193 520h3v1h-3zM1188 512h8v1h-8zM1193 504h3v1h-3zM1193 495h3v1h-3zM1193 487h3v1h-3zM1193 479h3v1h-3zM1188 471h8v1h-8zM1193 462h3v1h-3zM1193 454h3v1h-3zM1193 446h3v1h-3zM1193 438h3v1h-3zM1188 429h8v1h-8zM1193 421h3v1h-3zM1193 413h3v1h-3zM1193 405h3v1h-3zM1193 396h3v1h-3zM1188 388h8v1h-8zM1193 380h3v1h-3zM1193 371h3v1h-3zM1193 363h3v1h-3zM1193 355h3v1h-3zM1188 347h8v1h-8zM1193 338h3v1h-3zM1193 330h3v1h-3zM1193 322h3v1h-3zM1193 314h3v1h-3zM1188 305h8v1h-8zM1193 297h3v1h-3zM1193 289h3v1h-3zM1193 281h3v1h-3zM1193 272h3v1h-3zM1188 264h8v1h-8zM1193 256h3v1h-3zM1193 247h3v1h-3zM1193 239h3v1h-3zM1193 231h3v1h-3zM1188 223h8v1h-8zM1193 214h3v1h-3zM1193 206h3v1h-3zM1193 198h3v1h-3zM1193 190h3v1h-3zM1188 181h8v1h-8zM1193 173h3v1h-3zM1193 165h3v1h-3zM1193 157h3v1h-3zM1193 148h3v1h-3zM1188 140h8v1h-8zM1193 132h3v1h-3zM1193 123h3v1h-3zM1193 115h3v1h-3zM1193 107h3v1h-3zM1188 99h8v1h-8zM1193 90h3v1h-3zM1193 82h3v1h-3zM1193 74h3v1h-3zM1193 66h3v1h-3zM1188 57h8v1h-8zM1193 49h3v1h-3zM1193 41h3v1h-3zM1193 33h3v1h-3zM1193 725h3v1h-3zM1188 711h8v1h-8zM1193 697h3v1h-3zM1193 683h3v1h-3zM1193 669h3v1h-3zM1188 656h8v1h-8zM1193 642h3v1h-3zM1193 628h3v1h-3zM1193 614h3v1h-3zM1188 600h8v1h-8zM1193 586h3v1h-3zM1193 572h3v1h-3zM1193 869h3v1h-3zM1193 859h3v1h-3zM1193 849h3v1h-3zM1193 839h3v1h-3zM1188 829h8v1h-8zM1193 819h3v1h-3zM1193 809h3v1h-3zM1193 799h3v1h-3zM1193 789h3v1h-3zM1188 779h8v1h-8zM1193 769h3v1h-3zM1193 759h3v1h-3zM1193 749h3v1h-3z" fill="#fff"/>
</svg>
<div class="t" style="left:464.3px;top:4.19px;font-size:11px;color:#140000;font-weight:700;font-style:normal;letter-spacing:0px;">JO2-057:&nbsp; Orange Juice (Comb) Cont Liq @ ICE-US &nbsp;(Daily bars)</div>
<div class="t" style="left:522px;top:17.50px;font-size:13px;color:#140000;font-weight:400;font-style:normal;letter-spacing:-0.19px;">www.TradeNavigator.com © 1999-2017</div>
<div class="t" style="left:668.5px;top:32.46px;font-size:16px;color:#800000;font-weight:400;font-style:normal;letter-spacing:-0.35px;">LClose (7)</div>
<div class="t" style="left:750.5px;top:32.46px;font-size:16px;color:#008000;font-weight:400;font-style:normal;letter-spacing:-0.35px;">HClose (7)</div>
<div class="t" style="left:835.5px;top:32.46px;font-size:16px;color:#c00000;font-weight:400;font-style:normal;letter-spacing:-0.35px;">MovingAvg (C,200)</div>
<div class="t" style="left:978px;top:32.46px;font-size:16px;color:#000;font-weight:400;font-style:normal;letter-spacing:-0.15px;">27.01.2017 = 173,20 (+8,85)</div>
<div class="t" style="left:1203px;top:545.66px;font-size:16px;color:#40e020;font-weight:400;font-style:normal;letter-spacing:-0.2px;">110,00</div>
<div class="t" style="left:1203px;top:504.33px;font-size:16px;color:#40e020;font-weight:400;font-style:normal;letter-spacing:-0.2px;">120,00</div>
<div class="t" style="left:1203px;top:463.00px;font-size:16px;color:#40e020;font-weight:400;font-style:normal;letter-spacing:-0.2px;">130,00</div>
<div class="t" style="left:1203px;top:421.67px;font-size:16px;color:#40e020;font-weight:400;font-style:normal;letter-spacing:-0.2px;">140,00</div>
<div class="t" style="left:1203px;top:380.34px;font-size:16px;color:#40e020;font-weight:400;font-style:normal;letter-spacing:-0.2px;">150,00</div>
<div class="t" style="left:1203px;top:339.01px;font-size:16px;color:#40e020;font-weight:400;font-style:normal;letter-spacing:-0.2px;">160,00</div>
<div class="t" style="left:1203px;top:297.68px;font-size:16px;color:#40e020;font-weight:400;font-style:normal;letter-spacing:-0.2px;">170,00</div>
<div class="t" style="left:1203px;top:256.35px;font-size:16px;color:#40e020;font-weight:400;font-style:normal;letter-spacing:-0.2px;">180,00</div>
<div class="t" style="left:1203px;top:215.02px;font-size:16px;color:#40e020;font-weight:400;font-style:normal;letter-spacing:-0.2px;">190,00</div>
<div class="t" style="left:1203px;top:173.69px;font-size:16px;color:#40e020;font-weight:400;font-style:normal;letter-spacing:-0.2px;">200,00</div>
<div class="t" style="left:1203px;top:132.36px;font-size:16px;color:#40e020;font-weight:400;font-style:normal;letter-spacing:-0.2px;">210,00</div>
<div class="t" style="left:1203px;top:91.03px;font-size:16px;color:#40e020;font-weight:400;font-style:normal;letter-spacing:-0.2px;">220,00</div>
<div class="t" style="left:1203px;top:49.70px;font-size:16px;color:#40e020;font-weight:400;font-style:normal;letter-spacing:-0.2px;">230,00</div>
<div class="t" style="left:1198px;top:245px;width:49px;height:20px;background:#d00000"></div>
<div class="t" style="left:1199.5px;top:247.46px;font-size:16px;color:#d8b0b0;font-weight:400;font-style:normal;letter-spacing:-0.3px;">182,15</div>
<div class="t" style="left:1198px;top:282px;width:49px;height:20px;background:#000"></div>
<div class="t" style="left:1199.5px;top:284.46px;font-size:16px;color:#b8b8b8;font-weight:400;font-style:normal;letter-spacing:-0.3px;">173,20</div>
<div class="t" style="left:1199.5px;top:328.96px;font-size:16px;color:#d0a8a8;font-weight:400;font-style:normal;letter-spacing:-0.3px;">162,45</div>
<div class="t" style="left:1203px;top:592.56px;font-size:16px;color:#40e020;font-weight:400;font-style:normal;letter-spacing:0px;">2</div>
<div class="t" style="left:1203px;top:647.96px;font-size:16px;color:#40e020;font-weight:400;font-style:normal;letter-spacing:0px;">0</div>
<div class="t" style="left:1203px;top:703.36px;font-size:16px;color:#40e020;font-weight:400;font-style:normal;letter-spacing:0px;">-2</div>
<div class="t" style="left:1198px;top:666px;width:54px;height:21px;background:#00009a"></div>
<div class="t" style="left:1198.3px;top:669.46px;font-size:16px;color:#b8b8e0;font-weight:400;font-style:normal;letter-spacing:-0.3px;">-0,7964</div>
<div class="t" style="left:1203px;top:771.36px;font-size:16px;color:#40e020;font-weight:400;font-style:normal;letter-spacing:0px;">20</div>
<div class="t" style="left:1203px;top:821.36px;font-size:16px;color:#40e020;font-weight:400;font-style:normal;letter-spacing:0px;">10</div>
<div class="t" style="left:1203px;top:861.96px;font-size:16px;color:#40e020;font-weight:400;font-style:normal;letter-spacing:0px;">0</div>
<div class="t" style="left:1198px;top:791px;width:40px;height:20px;background:#000"></div>
<div class="t" style="left:1199.5px;top:793.46px;font-size:16px;color:#b8b8b8;font-weight:400;font-style:normal;letter-spacing:-0.3px;">15,48</div>
<div class="t" style="left:1083.5px;top:566.26px;font-size:16px;color:#000080;font-weight:400;font-style:normal;letter-spacing:-0.17px;">Professionals</div>
<div class="t" style="left:1136px;top:735.46px;font-size:16px;color:#000;font-weight:400;font-style:normal;letter-spacing:0px;">Angst</div>
<div class="t" style="left:4.5px;top:551.59px;font-size:11px;color:#000;font-weight:400;font-style:normal;letter-spacing:0px;">TradeNavigator.com</div>
<div class="t" style="left:91.5px;top:881.66px;font-size:16px;color:#40e020;font-weight:400;font-style:normal;letter-spacing:-0.22px;">Jän.16</div>
<div class="t" style="left:167.5px;top:881.66px;font-size:16px;color:#40e020;font-weight:400;font-style:normal;letter-spacing:-0.22px;">Feb.16</div>
<div class="t" style="left:247.5px;top:881.66px;font-size:16px;color:#40e020;font-weight:400;font-style:normal;letter-spacing:-0.22px;">Mär.16</div>
<div class="t" style="left:335.5px;top:881.66px;font-size:16px;color:#40e020;font-weight:400;font-style:normal;letter-spacing:-0.22px;">Apr.16</div>
<div class="t" style="left:419.5px;top:881.66px;font-size:16px;color:#40e020;font-weight:400;font-style:normal;letter-spacing:-0.22px;">Mai.16</div>
<div class="t" style="left:503.5px;top:881.66px;font-size:16px;color:#40e020;font-weight:400;font-style:normal;letter-spacing:-0.22px;">Jun.16</div>
<div class="t" style="left:591.5px;top:881.66px;font-size:16px;color:#40e020;font-weight:400;font-style:normal;letter-spacing:-0.22px;">Jul.16</div>
<div class="t" style="left:671.5px;top:881.66px;font-size:16px;color:#40e020;font-weight:400;font-style:normal;letter-spacing:-0.22px;">Aug.16</div>
<div class="t" style="left:763.5px;top:881.66px;font-size:16px;color:#40e020;font-weight:400;font-style:normal;letter-spacing:-0.22px;">Sep.16</div>
<div class="t" style="left:847.5px;top:881.66px;font-size:16px;color:#40e020;font-weight:400;font-style:normal;letter-spacing:-0.22px;">Okt.16</div>
<div class="t" style="left:931.5px;top:881.66px;font-size:16px;color:#40e020;font-weight:400;font-style:normal;letter-spacing:-0.22px;">Nov.16</div>
<div class="t" style="left:1015.5px;top:881.66px;font-size:16px;color:#40e020;font-weight:400;font-style:normal;letter-spacing:-0.22px;">Dez.16</div>
<div class="t" style="left:1099.5px;top:881.66px;font-size:16px;color:#40e020;font-weight:400;font-style:normal;letter-spacing:-0.22px;">Jän.17</div>
<div class="t" style="left:1179.5px;top:881.66px;font-size:16px;color:#40e020;font-weight:400;font-style:normal;letter-spacing:-0.22px;">Feb.17</div>
<div class="t" style="left:-0.8px;top:901.20px;font-size:13px;color:#300000;font-weight:400;font-style:normal;letter-spacing:0px;">Eigentum ZYXA</div>
</body></html>
